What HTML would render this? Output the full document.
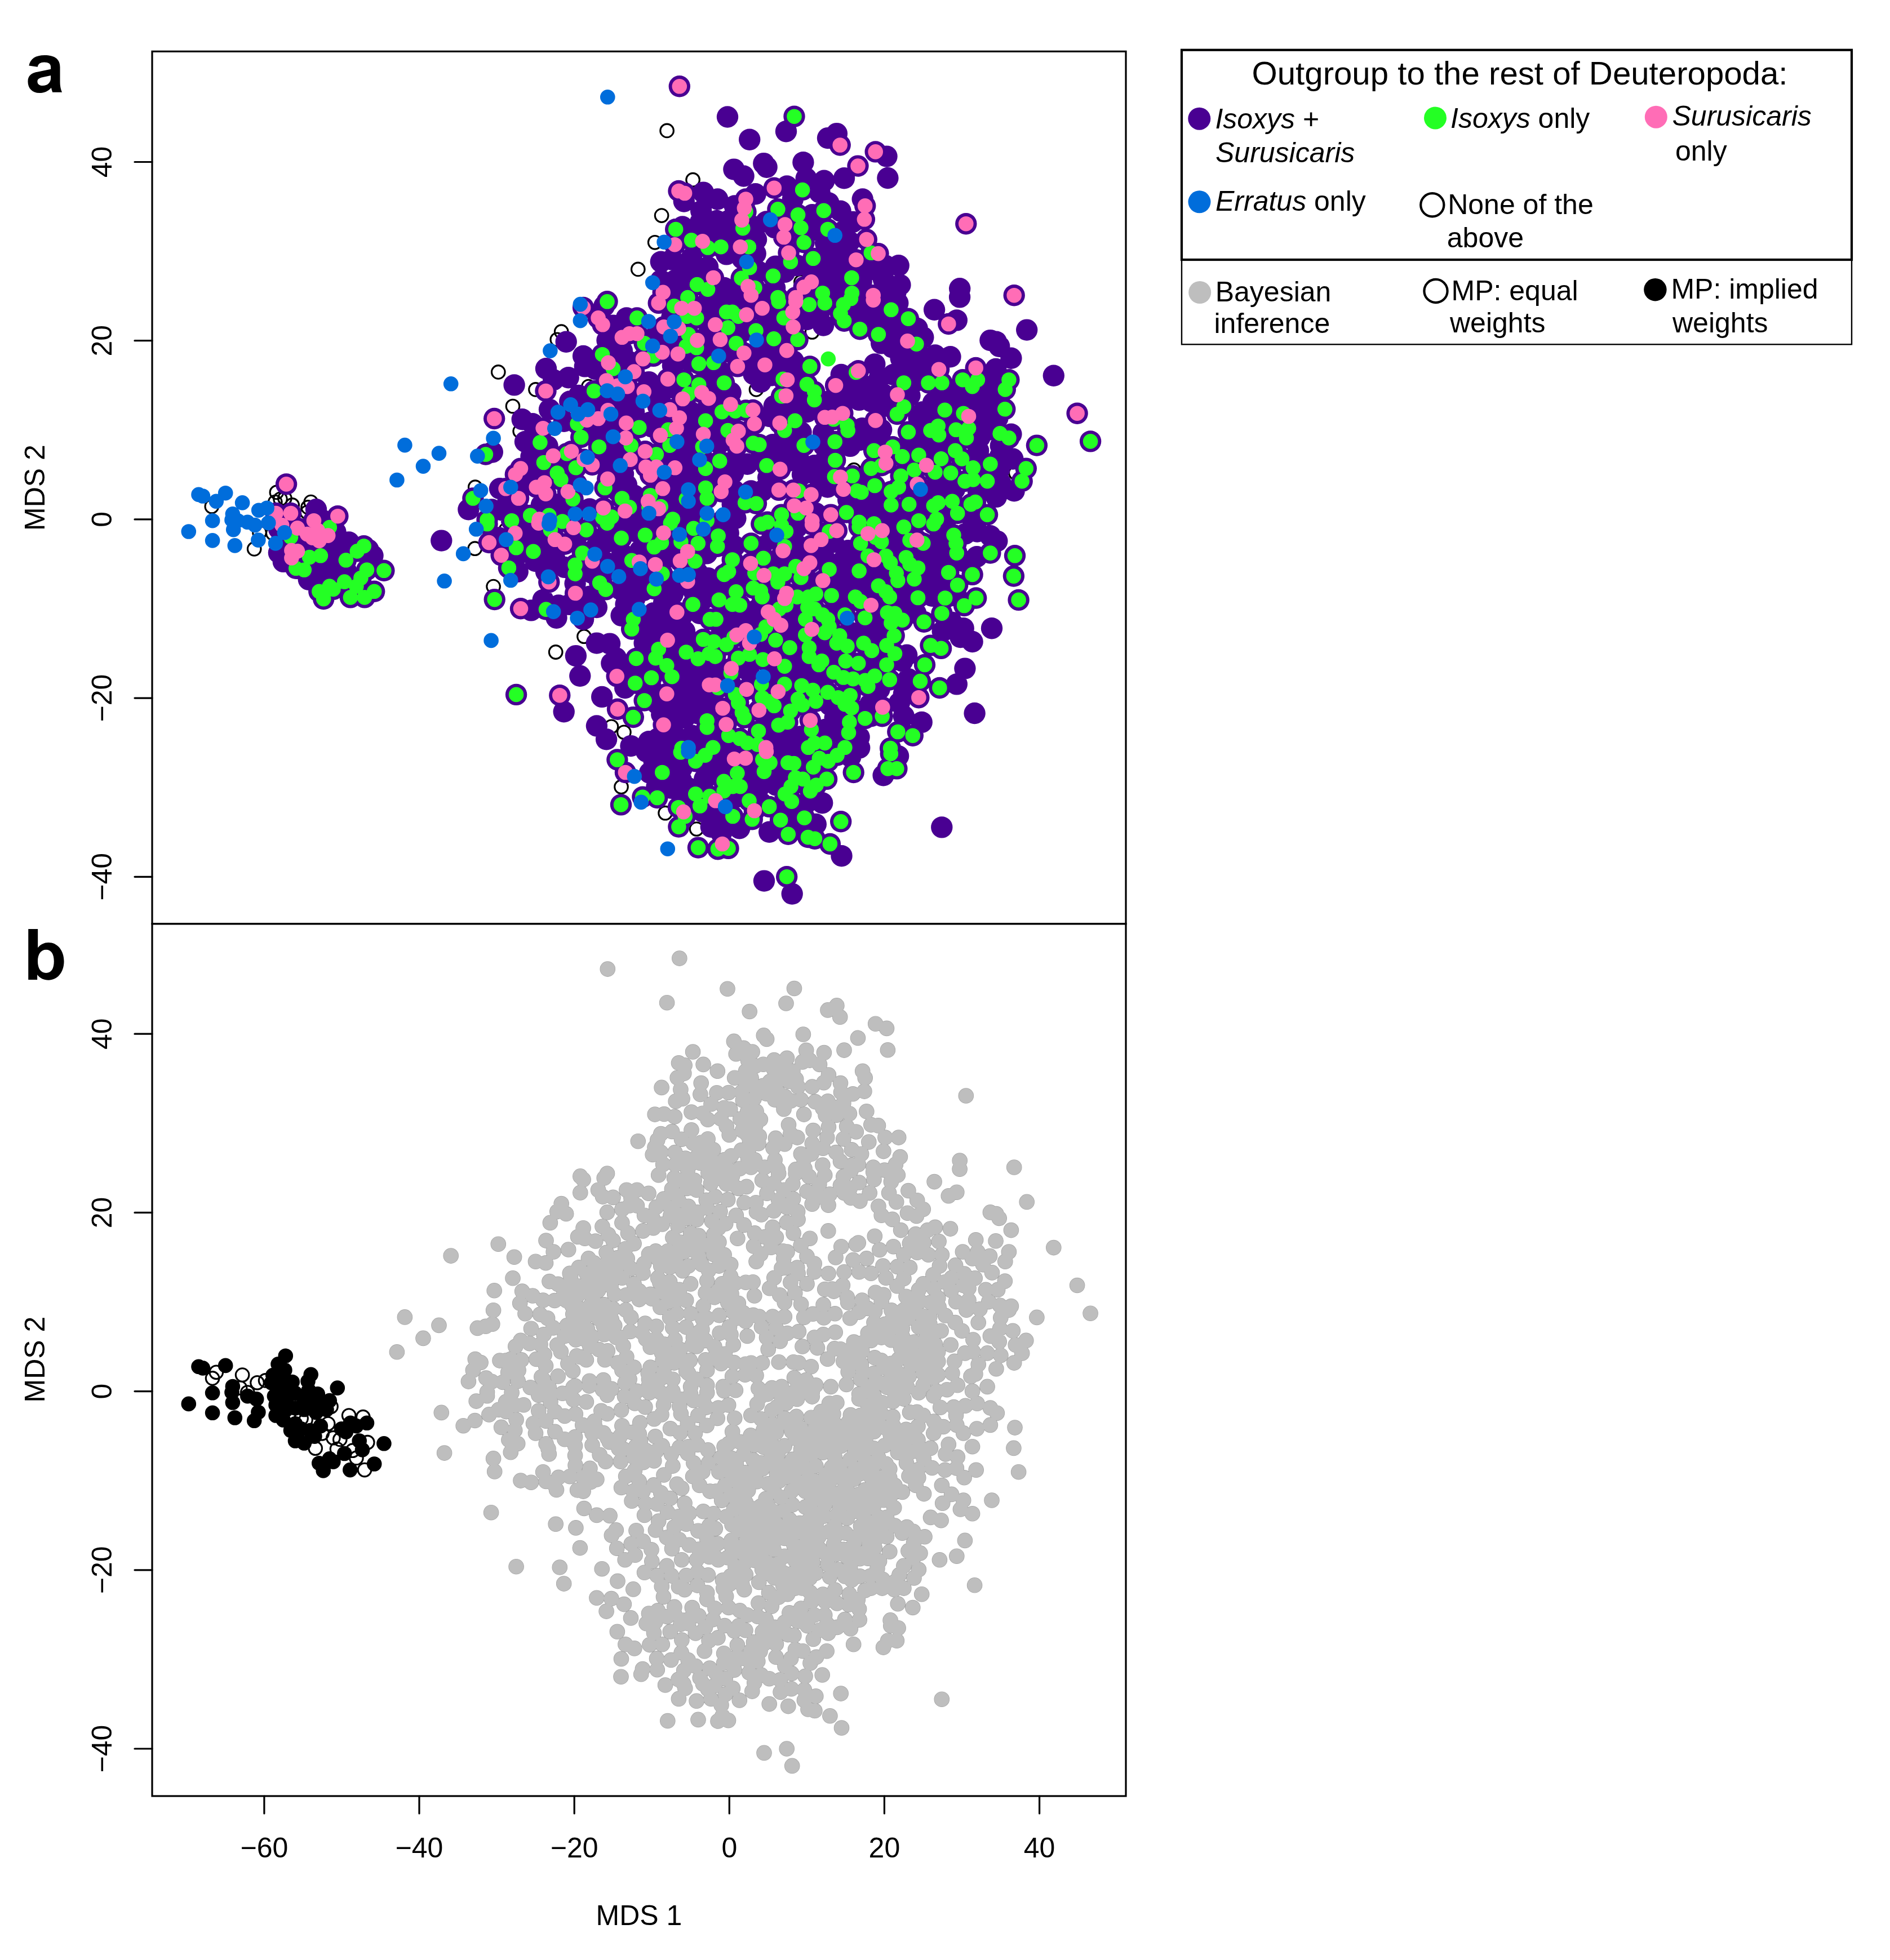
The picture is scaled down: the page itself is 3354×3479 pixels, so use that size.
<!DOCTYPE html>
<html><head><meta charset="utf-8"><title>MDS</title>
<style>html,body{margin:0;padding:0;background:#fff}svg{display:block}text{font-family:"Liberation Sans",sans-serif;fill:#000}</style></head>
<body>
<svg width="3354" height="3479" viewBox="0 0 3354 3479">
<rect width="3354" height="3479" fill="#fff"/>
<g id="pa">
<path d="M364 899a11.8 11.8 0 1 0 23.6 0a11.8 11.8 0 1 0 -23.6 0M479.1 873.9a11.8 11.8 0 1 0 23.6 0a11.8 11.8 0 1 0 -23.6 0M485.7 885.8a11.8 11.8 0 1 0 23.6 0a11.8 11.8 0 1 0 -23.6 0M476.5 891.1a11.8 11.8 0 1 0 23.6 0a11.8 11.8 0 1 0 -23.6 0M493.6 884.5a11.8 11.8 0 1 0 23.6 0a11.8 11.8 0 1 0 -23.6 0M539.9 891.1a11.8 11.8 0 1 0 23.6 0a11.8 11.8 0 1 0 -23.6 0M534.7 900.4a11.8 11.8 0 1 0 23.6 0a11.8 11.8 0 1 0 -23.6 0M533.3 909.6a11.8 11.8 0 1 0 23.6 0a11.8 11.8 0 1 0 -23.6 0M439.4 974.4a11.8 11.8 0 1 0 23.6 0a11.8 11.8 0 1 0 -23.6 0M448.7 945.3a11.8 11.8 0 1 0 23.6 0a11.8 11.8 0 1 0 -23.6 0M472.5 946.7a11.8 11.8 0 1 0 23.6 0a11.8 11.8 0 1 0 -23.6 0M506.9 896.4a11.8 11.8 0 1 0 23.6 0a11.8 11.8 0 1 0 -23.6 0M1171.8 231.9a11.8 11.8 0 1 0 23.6 0a11.8 11.8 0 1 0 -23.6 0M1217.8 319.2a11.8 11.8 0 1 0 23.6 0a11.8 11.8 0 1 0 -23.6 0M1162.3 382.6a11.8 11.8 0 1 0 23.6 0a11.8 11.8 0 1 0 -23.6 0M1150.4 430.3a11.8 11.8 0 1 0 23.6 0a11.8 11.8 0 1 0 -23.6 0M1120.5 477.9a11.8 11.8 0 1 0 23.6 0a11.8 11.8 0 1 0 -23.6 0M1409.6 500.4a11.8 11.8 0 1 0 23.6 0a11.8 11.8 0 1 0 -23.6 0M984.4 588.7a11.8 11.8 0 1 0 23.6 0a11.8 11.8 0 1 0 -23.6 0M977 602.8a11.8 11.8 0 1 0 23.6 0a11.8 11.8 0 1 0 -23.6 0M872.5 660.4a11.8 11.8 0 1 0 23.6 0a11.8 11.8 0 1 0 -23.6 0M898.2 721a11.8 11.8 0 1 0 23.6 0a11.8 11.8 0 1 0 -23.6 0M938.7 691.4a11.8 11.8 0 1 0 23.6 0a11.8 11.8 0 1 0 -23.6 0M1032.6 686.1a11.8 11.8 0 1 0 23.6 0a11.8 11.8 0 1 0 -23.6 0M996.9 736.3a11.8 11.8 0 1 0 23.6 0a11.8 11.8 0 1 0 -23.6 0M831.5 864.7a11.8 11.8 0 1 0 23.6 0a11.8 11.8 0 1 0 -23.6 0M951.9 900.4a11.8 11.8 0 1 0 23.6 0a11.8 11.8 0 1 0 -23.6 0M910.9 765.4a11.8 11.8 0 1 0 23.6 0a11.8 11.8 0 1 0 -23.6 0M1224.4 842.2a11.8 11.8 0 1 0 23.6 0a11.8 11.8 0 1 0 -23.6 0M1429.4 589.5a11.8 11.8 0 1 0 23.6 0a11.8 11.8 0 1 0 -23.6 0M1330.2 691.4a11.8 11.8 0 1 0 23.6 0a11.8 11.8 0 1 0 -23.6 0M1503.5 834.2a11.8 11.8 0 1 0 23.6 0a11.8 11.8 0 1 0 -23.6 0M1404.3 712.5a11.8 11.8 0 1 0 23.6 0a11.8 11.8 0 1 0 -23.6 0M1790.5 839.5a11.8 11.8 0 1 0 23.6 0a11.8 11.8 0 1 0 -23.6 0M831 973.7a11.8 11.8 0 1 0 23.6 0a11.8 11.8 0 1 0 -23.6 0M863.8 1041.1a11.8 11.8 0 1 0 23.6 0a11.8 11.8 0 1 0 -23.6 0M1024.7 1129.7a11.8 11.8 0 1 0 23.6 0a11.8 11.8 0 1 0 -23.6 0M974.4 1157.5a11.8 11.8 0 1 0 23.6 0a11.8 11.8 0 1 0 -23.6 0M1073.1 1289.8a11.8 11.8 0 1 0 23.6 0a11.8 11.8 0 1 0 -23.6 0M1095.6 1299.8a11.8 11.8 0 1 0 23.6 0a11.8 11.8 0 1 0 -23.6 0M885.8 940.6a11.8 11.8 0 1 0 23.6 0a11.8 11.8 0 1 0 -23.6 0M1184.7 1316.2a11.8 11.8 0 1 0 23.6 0a11.8 11.8 0 1 0 -23.6 0M1090.7 1396.7a11.8 11.8 0 1 0 23.6 0a11.8 11.8 0 1 0 -23.6 0M1168.8 1443.2a11.8 11.8 0 1 0 23.6 0a11.8 11.8 0 1 0 -23.6 0M1244.4 1450.4a11.8 11.8 0 1 0 23.6 0a11.8 11.8 0 1 0 -23.6 0M1224.3 1471.5a11.8 11.8 0 1 0 23.6 0a11.8 11.8 0 1 0 -23.6 0" stroke="#000" stroke-width="3.1" fill="none"/>
<path d="M574.2 1012.8h.01M561 1018.1h.01M587.5 996.9h.01M600.7 965.2h.01M619.2 962.5h.01M595.4 944h.01M653.6 975.8h.01M661.5 986.3h.01M494.9 981.1h.01M502.8 996.9h.01M547.8 1028.7h.01M595.4 1018.1h.01M613.9 1012.8h.01M576.9 970.5h.01M561 904.3h.01M494.9 938.7h.01M571.6 922.9h.01M1291 207.5h.01M1330.2 247.7h.01M1395 233.2h.01M1469 245.1h.01M1484.9 237.1h.01M1573.5 277.6h.01M1425.4 288.2h.01M1355.3 290.1h.01M1360.6 296.7h.01M1302.4 300.6h.01M1319.6 312.5h.01M1430.7 316.5h.01M1575.4 316h.01M1248.1 341.6h.01M1273.3 353.5h.01M1213.8 357.5h.01M1340.7 344.3h.01M1454.5 341.6h.01M1406.9 353.5h.01M1470.4 360.2h.01M1491.5 374.7h.01M1530.7 353.5h.01M1303.7 365.4h.01M1244.2 374.7h.01M1272 391.9h.01M1242.9 394.6h.01M1338.1 402.5h.01M1441.3 381.3h.01M1496.8 410.4h.01M1446.6 407.8h.01M1211.1 402.5h.01M1285.2 418.4h.01M1507.4 428.9h.01M1295.8 421h.01M1465.1 431.6h.01M1172.8 464.7h.01M1192.6 460.7h.01M1227 458h.01M1256.1 473.9h.01M1289.2 451.4h.01M1340.7 450.1h.01M1376.5 472.6h.01M1414.8 471.3h.01M1470.4 452.8h.01M1467.7 471.3h.01M1496.8 473.9h.01M1541.8 479.2h.01M1570.9 471.3h.01M1594.7 471.3h.01M1172.8 497.7h.01M1197.9 497.7h.01M1216.4 508.3h.01M1285.2 511h.01M1346 481.9h.01M1375.1 511h.01M1483.6 497.7h.01M1528.6 500.4h.01M1597.4 505.7h.01M1589.4 518.9h.01M1523.3 518.9h.01M1441.3 481.9h.01M1491.5 513.6h.01M1703.2 512.3h.01M1004.7 606.7h.01M1035.1 631.9h.01M1037.8 650.4h.01M969 654.3h.01M1008.7 670.2h.01M982.2 674.2h.01M912.6 683.4h.01M1027.2 702h.01M1011.3 712.5h.01M926.7 744.3h.01M945.2 752.2h.01M873.8 802.5h.01M932 784h.01M971.6 791.9h.01M942.5 810.4h.01M939.9 836.9h.01M1048.4 768.1h.01M1072.2 768.1h.01M1156.8 757.5h.01M1090.7 805.1h.01M1072.2 821h.01M1111.9 860.7h.01M887 867.3h.01M831.4 904.3h.01M892.3 905.7h.01M1096 871.3h.01M1196.5 871.3h.01M1125.1 879.2h.01M990.2 895.1h.01M1193.9 900.4h.01M1225.6 913.6h.01M1072.2 543.2h.01M1088 577.6h.01M1077.5 604.1h.01M1111.9 564.4h.01M1103.9 622.6h.01M1114.5 641.1h.01M1151.5 678.1h.01M1172.7 699.3h.01M1193.9 649h.01M1225.6 641.1h.01M1254.7 596.1h.01M1254.7 662.3h.01M1167.4 686.1h.01M1103.9 720.5h.01M1125.1 731.1h.01M1154.2 749.6h.01M1225.6 731.1h.01M1254.7 725.8h.01M1090.7 749.6h.01M1053.7 762.8h.01M1072.2 784h.01M1085.4 794.6h.01M1217.7 760.2h.01M1225.6 784h.01M1217.7 807.8h.01M1207.1 847.5h.01M1228.3 839.5h.01M1193.9 855.4h.01M1178 887.1h.01M1236.2 900.4h.01M1130.4 921.5h.01M1172.7 924.2h.01M1225.6 926.8h.01M1658.1 549.8h.01M1697.8 568.4h.01M1757.4 604.1h.01M1703.1 527.4h.01M1524.6 551.2h.01M1551 545.9h.01M1593.3 537.9h.01M1432 567h.01M1461.1 577.6h.01M1590.7 585.6h.01M1627.7 582.9h.01M1638.3 598.8h.01M1564.2 609.4h.01M1598.6 635.8h.01M1552.3 646.4h.01M1646.2 635.8h.01M1659.5 630.5h.01M1492.8 664.9h.01M1585.4 664.9h.01M1627.7 675.5h.01M1349.9 678.1h.01M1537.8 686.1h.01M1514 688.7h.01M1566.9 699.3h.01M1614.5 702h.01M1667.4 699.3h.01M1688.6 720.5h.01M1275.9 657h.01M1371.1 630.5h.01M1339.4 641.1h.01M1408.1 641.1h.01M1320.8 586.9h.01M1373.8 720.5h.01M1402.9 728.4h.01M1432 731.1h.01M1498.1 709.9h.01M1524.6 709.9h.01M1545.7 712.5h.01M1572.2 720.5h.01M1638.3 731.1h.01M1749.4 741.6h.01M1754.7 762.8h.01M1275.9 699.3h.01M1267.9 754.9h.01M1365.8 739h.01M1461.1 768.1h.01M1529.8 760.2h.01M1564.2 762.8h.01M1630.4 741.6h.01M1738.8 776h.01M1371.1 789.3h.01M1392.3 789.3h.01M1508.7 791.9h.01M1524.6 781.3h.01M1611.9 791.9h.01M1736.2 799.8h.01M1417.4 815.7h.01M1326.1 823.7h.01M1297 821h.01M1445.2 826.3h.01M1461.1 821h.01M1363.2 847.5h.01M1424 842.2h.01M1450.5 844.8h.01M1267.9 842.2h.01M1529.8 850.1h.01M1664.8 868.6h.01M1693.9 868.6h.01M1736.2 873.9h.01M1352.6 871.3h.01M1551 889.8h.01M1299.7 895.1h.01M1527.2 900.4h.01M1638.3 911h.01M1680.6 918.9h.01M1725.6 921.5h.01M1447.8 911h.01M1822.2 585.6h.01M1767.9 606.7h.01M1773.2 614.7h.01M1794.4 635.8h.01M1869.8 666.8h.01M1770.6 741.6h.01M1794.4 770.7h.01M1774.6 810.4h.01M1775.9 858h.01M1799.7 871.3h.01M1767.9 881.9h.01M783.3 959.6h.01M955.8 956.5h.01M984.9 993.5h.01M918.7 1014.7h.01M963.7 1064.9h.01M942.5 1083.4h.01M987.5 1096.7h.01M1011.3 1072.9h.01M1035.1 1099.3h.01M1058.9 1078.1h.01M1020.6 1035.8h.01M1101.3 1046.4h.01M1126.4 1062.3h.01M1102.6 1092.7h.01M1178 1070.2h.01M1141 1099.3h.01M1172.7 1102h.01M1058.9 1141.6h.01M1021.9 1164.1h.01M1029.3 1199.8h.01M1085.4 1177.4h.01M1093.3 1168.1h.01M1068.2 1236.9h.01M1000.7 1263.3h.01M1058.9 1288.5h.01M1076.1 1312.3h.01M1151.5 1316.2h.01M1215 1273.9h.01M1228.3 1305.7h.01M1215 1120.5h.01M1241.5 1088.7h.01M1223 1194.6h.01M1236.2 1221h.01M1254.7 1184h.01M1209.7 1221h.01M1156.8 1223.7h.01M1109.2 1221h.01M1204.4 1268.6h.01M1167.4 1311h.01M1077.5 961.7h.01M1103.9 982.9h.01M1066.9 956.5h.01M1257.4 1049h.01M1230.9 1049h.01M1193.9 1054.3h.01M1209.7 1094h.01M1143.6 1141.6h.01M1196.5 1162.8h.01M1051 1017.3h.01M950.5 996.1h.01M929.3 945.9h.01M1757.4 951.2h.01M1733.5 988.2h.01M1709.7 996.1h.01M1678 1033.2h.01M1651.5 1022.6h.01M1656.8 996.1h.01M1760 1115.2h.01M1709.7 1115.2h.01M1688.6 1104.6h.01M1672.7 1120.5h.01M1725.6 1139h.01M1704.4 1131.1h.01M1712.4 1186.6h.01M1697.8 1214.4h.01M1609.2 1162.8h.01M1601.3 1173.4h.01M1611.9 1205.1h.01M1603.9 1231.6h.01M1596 1247.5h.01M1603.9 1271.3h.01M1635.7 1281.9h.01M1729.6 1266h.01M1524.6 1308.3h.01M1545.7 1271.3h.01M1769.3 960.4h.01M1162.9 1331.3h.01M1147 1334h.01M1189.3 1348.5h.01M1258.1 1364.4h.01M1165.5 1396.1h.01M1209.2 1385.6h.01M1221.1 1398.8h.01M1250.2 1382.9h.01M1332.2 1382.9h.01M1337.5 1367h.01M1374.5 1340.6h.01M1311 1337.9h.01M1432.7 1337.9h.01M1509.4 1343.2h.01M1247.5 1441.1h.01M1287.2 1459.6h.01M1312.3 1470.2h.01M1365.2 1476.8h.01M1350.7 1425.2h.01M1459.2 1425.2h.01M1493.5 1519.2h.01M1356 1563.6h.01M1405.7 1586.6h.01M1427.4 1470.2h.01M1377.1 1393.5h.01M1274 1359.1h.01M1594.1 1341.9h.01M1567.6 1376.3h.01M1671.3 1468.4h.01M584.8 936.1h.01M516 953.3h.01M549.1 989h.01M568.9 986.3h.01M525.3 1008.8h.01M539.8 1011.5h.01M613.9 994.3h.01M633.8 978.4h.01M645.7 969.2h.01M651 1011.5h.01M681.4 1012.8h.01M640.4 1026h.01M611.3 1032.6h.01M632.4 1040.6h.01M584.8 1040.6h.01M566.3 1049.8h.01M591.4 1045.9h.01M574.2 1063.1h.01M621.9 1060.4h.01M647 1060.4h.01M664.2 1049.8h.01M1409.5 206.7h.01M1424.1 337.1h.01M1380.4 371.3h.01M1416.1 381.3h.01M1461.9 373.9h.01M1199.2 407h.01M1421.4 404.3h.01M1469 407h.01M1318.3 405.1h.01M1227 426.3h.01M1426.7 430.3h.01M1256.1 439.5h.01M1279.4 438.2h.01M1328.8 438.2h.01M1443.1 458.8h.01M1402.9 464.7h.01M1545.8 448.8h.01M1330.2 475.2h.01M1372 489.8h.01M1315.6 493.8h.01M1237 505.1h.01M1256.1 513.6h.01M1511.4 493h.01M1459.8 520.2h.01M1511.9 520.2h.01M1339.4 511h.01M1220.4 528.1h.01M1380.4 528.1h.01M1323.5 376h.01M1077.5 535.3h.01M1196.5 543.2h.01M1219 561.7h.01M1236.2 564.4h.01M1130.4 564.4h.01M1221.6 593.5h.01M1143.6 609.4h.01M1217.7 614.7h.01M1236.2 617.3h.01M1069 629.2h.01M1159.5 631.9h.01M1240.2 645.6h.01M1088 654.3h.01M1213.7 674.2h.01M1240.2 682.9h.01M1054.2 694h.01M1221.6 699.3h.01M1252.1 746.9h.01M1134.3 758.8h.01M1185.9 762.8h.01M1024.6 752.2h.01M1031.2 776h.01M958.4 785.3h.01M1062.9 793.2h.01M1119.8 790.6h.01M1188.6 790.6h.01M1246.8 793.2h.01M1164.8 806.5h.01M861.9 806.5h.01M1006 805.1h.01M965 821h.01M1021.9 830.3h.01M988.8 839.5h.01M995.4 851.4h.01M1073.5 866h.01M1252.1 831.6h.01M1252.1 866h.01M839.4 884.5h.01M1016.6 885.8h.01M1103.9 884.5h.01M1154.2 879.2h.01M1254.7 884.5h.01M1172.7 899h.01M1117.1 900.4h.01M941.2 914.9h.01M974.3 914.9h.01M908.1 924.2h.01M864.5 922.9h.01M1085.4 917.6h.01M1069.5 918.9h.01M1151.5 900.4h.01M1193.9 921.5h.01M998.1 925.5h.01M1217.7 885.8h.01M1254.7 924.2h.01M1381.7 535.3h.01M1435.9 540.6h.01M1463.7 537.9h.01M1496.8 540.6h.01M1510 530h.01M1289.1 553.8h.01M1299.7 553.8h.01M1310.3 561.7h.01M1391 564.4h.01M1491.5 556.5h.01M1498.1 569.7h.01M1581.4 549.8h.01M1611.9 565.7h.01M1291.7 581.6h.01M1341.5 586.9h.01M1525.9 584.2h.01M1558.9 593.5h.01M1306.3 609.4h.01M1373.2 601.4h.01M1415.6 602.8h.01M1626.4 610.7h.01M1437.2 650.4h.01M1285.1 679.5h.01M1519.3 661h.01M1432 682.1h.01M1445.2 695.3h.01M1445.2 709.9h.01M1389.6 672.9h.01M1387 703.3h.01M1603.9 679.5h.01M1647.6 679.5h.01M1671.4 679.5h.01M1708.4 674.2h.01M1734.9 674.2h.01M1725.6 686.1h.01M1281.2 731.1h.01M1305 729.7h.01M1323.5 728.4h.01M1603.9 721.8h.01M1592 735h.01M1676.7 727.9h.01M1709.7 733.7h.01M1410.8 746.9h.01M1479.6 744.3h.01M1503.4 754.9h.01M1504.7 764.1h.01M1611.9 766.8h.01M1651.5 764.1h.01M1664.8 756.2h.01M1666.1 772.1h.01M1696.5 762.8h.01M1719 760.2h.01M1715 777.4h.01M1291.7 764.1h.01M1392.3 764.1h.01M1336.7 786.6h.01M1347.3 789.3h.01M1426.7 790.6h.01M1481.7 784h.01M1584.1 793.2h.01M1551 799.8h.01M1601.3 810.4h.01M1630.4 807.8h.01M1670.1 814.4h.01M1695.2 799.8h.01M1707.1 814.4h.01M1277.2 818.4h.01M1360.5 826.3h.01M1482.2 817h.01M1545.7 831.6h.01M1564.2 826.3h.01M1598.6 844.8h.01M1622.4 834.2h.01M1659.5 838.2h.01M1687.2 839.5h.01M1726.9 830.3h.01M1757.4 823.7h.01M1480.9 846.1h.01M1512.6 844.8h.01M1552.3 862h.01M1712.4 854.1h.01M1726.9 851.4h.01M1752.1 854.1h.01M1520.6 871.3h.01M1528.5 873.9h.01M1581.4 872.6h.01M1594.7 864.7h.01M1417.4 871.3h.01M1322.2 892.4h.01M1342 893.8h.01M1581.4 896.4h.01M1613.2 895.1h.01M1656.8 897.7h.01M1664.8 892.4h.01M1689.9 889.8h.01M1723 895.1h.01M1730.9 891.1h.01M1502.1 909.6h.01M1699.2 911h.01M1752.1 913.6h.01M1387 913.6h.01M1416.1 911h.01M1361.9 926.8h.01M1524.6 926.8h.01M1630.4 924.2h.01M1662.1 921.5h.01M1551 929.5h.01M1266.6 643.8h.01M1790.4 674.2h.01M1783.8 691.4h.01M1783.3 726.3h.01M1774.6 769.4h.01M1790.4 777.4h.01M1839.9 790.6h.01M1935.1 783.4h.01M1820.8 831.6h.01M1813.7 854.1h.01M864.5 930h.01M916.1 972.3h.01M946.5 978.9h.01M902.9 1008h.01M976.9 940.6h.01M1040.4 940.6h.01M1033.8 981.6h.01M1020.6 1002.8h.01M1020.6 1018.6h.01M1102.6 955.1h.01M1144.9 949.8h.01M1160.8 971h.01M1174 963.1h.01M1208.4 961.7h.01M1238.8 964.4h.01M1233.5 996.1h.01M1121.1 994.8h.01M1175.3 1018.6h.01M1064.2 1034.5h.01M1074.8 1046.4h.01M1160.8 1045.1h.01M877.7 1064.1h.01M969 1081.6h.01M1229.6 1072.9h.01M1123.8 1099.3h.01M1121.1 1116.5h.01M1248.1 1135h.01M1168.7 1152.2h.01M1163.4 1168.1h.01M1129 1168.9h.01M1217.7 1157.5h.01M1238.8 1169.4h.01M1183.3 1181.3h.01M1258.7 1160.2h.01M1192.5 1201.2h.01M1156 1203h.01M1127.2 1212.5h.01M916.1 1232.9h.01M1143.6 1243.5h.01M1123.8 1273.1h.01M1254.7 1279.2h.01M1254.7 1291.1h.01M1209.7 1328.1h.01M1230.9 937.9h.01M1189.9 928.7h.01M1077.5 928.7h.01M1260 1099.3h.01M1274.6 951.2h.01M1273.2 969.7h.01M1332.8 964.4h.01M1394.9 943.2h.01M1387 932.6h.01M1351.3 930h.01M1392.3 969.7h.01M1471.6 943.2h.01M1524.6 935.3h.01M1553.7 953.8h.01M1527.2 964.4h.01M1564.2 961.7h.01M1603.9 935.3h.01M1614.5 959.1h.01M1638.3 964.4h.01M1656.8 930h.01M1692.5 949.8h.01M1696.5 964.4h.01M1697.8 981.6h.01M1757.4 981.6h.01M1299.7 993.5h.01M1354.7 990.8h.01M1412.1 1005.4h.01M1471.6 1010.7h.01M1524.6 1013.3h.01M1540.4 986.9h.01M1572.2 986.9h.01M1580.1 998.8h.01M1607.9 989.5h.01M1614.5 1001.4h.01M1629 1008h.01M1293.1 1014.7h.01M1285.1 1019.9h.01M1339.4 1017.3h.01M1372.4 1018.6h.01M1392.3 1018.6h.01M1380.4 1033.2h.01M1421.4 1025.2h.01M1590.7 1017.3h.01M1593.3 1030.5h.01M1558.9 1039.8h.01M1622.4 1027.9h.01M1683.3 1016h.01M1725.6 1019.9h.01M1699.2 1038.5h.01M1306.3 1050.4h.01M1336.7 1043.8h.01M1349.9 1049h.01M1352.6 1059.6h.01M1275.9 1064.9h.01M1299.7 1072.9h.01M1312.9 1074.2h.01M1414.8 1059.6h.01M1434.6 1059.6h.01M1447.8 1054.3h.01M1475.6 1057h.01M1517.9 1059.6h.01M1527.2 1067.6h.01M1572.2 1050.4h.01M1578.8 1059.6h.01M1629 1061h.01M1677.2 1061.5h.01M1732.2 1061.5h.01M1711.1 1075h.01M1270.6 1099.3h.01M1383 1080.8h.01M1394.9 1074.2h.01M1433.3 1078.1h.01M1445.2 1080.8h.01M1429.3 1099.3h.01M1459.7 1091.4h.01M1469 1099.3h.01M1535.1 1096.7h.01M1574.8 1087.4h.01M1588 1088.7h.01M1601.3 1100.6h.01M1581.4 1105.9h.01M1639.6 1103.8h.01M1671.4 1088.7h.01M1499.4 1091.4h.01M1359.2 1112.5h.01M1349.9 1125.8h.01M1429.3 1127.1h.01M1463.7 1123.1h.01M1471.6 1112.5h.01M1490.2 1128.4h.01M1484.9 1141.6h.01M1503.4 1146.9h.01M1532.5 1141.6h.01M1547 1154.9h.01M1586.7 1128.4h.01M1573.5 1145.6h.01M1588 1160.2h.01M1651.5 1145.6h.01M1670.1 1150.9h.01M1289.1 1144.3h.01M1376.4 1136.3h.01M1401.5 1149.6h.01M1302.3 1131.1h.01M1266.6 1139h.01M1435.9 1149.6h.01M1269.3 1165.4h.01M1310.3 1168.1h.01M1330.1 1161.5h.01M1353.9 1170.7h.01M1392.3 1182.6h.01M1435.9 1165.4h.01M1458.4 1173.4h.01M1453.1 1180h.01M1500.7 1173.4h.01M1523.2 1177.4h.01M1573.5 1180h.01M1641 1180h.01M1297 1194.6h.01M1479.6 1193.2h.01M1496.8 1202.5h.01M1514 1205.1h.01M1535.1 1207.8h.01M1552.3 1199.8h.01M1578.8 1206.5h.01M1633 1209.1h.01M1540.4 1218.4h.01M1392.3 1214.4h.01M1422.7 1217h.01M1442.5 1225h.01M1469 1228.9h.01M1487.5 1238.2h.01M1508.7 1234.2h.01M1499.4 1250.1h.01M1352.6 1238.2h.01M1363.2 1244.8h.01M1373.8 1252.8h.01M1305 1232.9h.01M1310.3 1247.5h.01M1416.1 1240.8h.01M1424 1251.4h.01M1447.8 1244.8h.01M1667.4 1221h.01M1274.6 1221h.01M1351.3 1214.4h.01M1511.3 1256.7h.01M1402.9 1262h.01M1397.6 1281.9h.01M1381.7 1287.1h.01M1316.9 1264.7h.01M1320.8 1273.9h.01M1565.6 1271.3h.01M1535.1 1275.2h.01M1507.4 1281.9h.01M1439.9 1295.1h.01M1346 1297.7h.01M1293.1 1305.7h.01M1506 1300.4h.01M1593.3 1299h.01M1619.8 1305.7h.01M1312.9 1311h.01M1326.1 1318.9h.01M1344.7 1321.5h.01M1445.2 1318.9h.01M1463.7 1318.9h.01M1434.6 1326.8h.01M1499.4 1326.8h.01M1580.1 1328.1h.01M1265.3 1326.8h.01M1801 986.3h.01M1798.9 1022.6h.01M1807.6 1064.9h.01M1095.4 1348.5h.01M1207.8 1335.3h.01M1234.3 1351.2h.01M1251.5 1340.6h.01M1175.3 1371h.01M1308.4 1372.3h.01M1284.6 1386.9h.01M1300.4 1396.1h.01M1313.7 1396.1h.01M1284.6 1404.1h.01M1356 1369.7h.01M1353.3 1348.5h.01M1366.6 1353.8h.01M1398.3 1353.8h.01M1408.9 1355.1h.01M1443.3 1361.7h.01M1453.9 1345.9h.01M1469.7 1351.2h.01M1485.6 1340.6h.01M1514.7 1371h.01M1411.5 1380.3h.01M1424.8 1382.9h.01M1403.6 1396.1h.01M1467.1 1382.9h.01M1448.6 1393.5h.01M1438 1404.1h.01M1393 1409.4h.01M1404.9 1422.6h.01M1140.4 1414.7h.01M1166.3 1416h.01M1234.3 1409.4h.01M1259.4 1413.3h.01M1242.2 1430.5h.01M1102 1428.4h.01M1203.9 1433.2h.01M1329.5 1421.3h.01M1365.2 1431.9h.01M1300.4 1449h.01M1334.8 1454.3h.01M1215.8 1449h.01M1385.1 1455.7h.01M1427.4 1451.7h.01M1492.2 1458.3h.01M1204.4 1467.6h.01M1398.8 1480.8h.01M1434 1486.1h.01M1445.9 1488.7h.01M1472.9 1498h.01M1239 1504.6h.01M1274 1507.2h.01M1292.5 1505.9h.01M1396.2 1556.2h.01M1580.8 1337.9h.01M1575.6 1364.4h.01M1591.4 1364.4h.01M508.1 859.4h.01M599.4 916.2h.01M516 911h.01M489.6 911h.01M500.2 932.1h.01M527.9 937.4h.01M557 924.2h.01M545.1 948h.01M563.7 941.4h.01M582.2 950.6h.01M566.3 959.9h.01M554.4 954.6h.01M517.4 977.1h.01M527.9 978.4h.01M517.4 990.3h.01M1205.8 153.3h.01M1490.7 257.5h.01M1553.7 269.4h.01M1522.5 294.6h.01M1204.5 339h.01M1215.1 343h.01M1373.8 333.7h.01M1323.5 353.5h.01M1320.9 369.4h.01M1316.4 390.6h.01M1535.2 365.4h.01M1533.9 389.3h.01M1393.1 398.5h.01M1391 421h.01M1537.8 425h.01M1246.8 428.4h.01M1197.4 434.2h.01M1313.8 438.2h.01M1399.5 448.8h.01M1558.5 450.1h.01M1519.3 461.2h.01M1265.9 493h.01M1439.9 500.4h.01M1426.7 509.6h.01M1327.5 508.3h.01M1176.7 518.9h.01M1549.7 524.2h.01M1332.8 524.2h.01M1412.2 528.1h.01M1714.3 397.2h.01M1799.7 524.2h.01M1035.1 545.9h.01M1168.7 537.9h.01M1209.7 547.2h.01M1232.2 547.2h.01M1061.6 564.4h.01M1069.5 576.3h.01M1178 580.3h.01M1204.4 582.9h.01M1103.9 598.8h.01M1117.1 592.2h.01M1130.4 592.2h.01M1237.5 604.1h.01M1175.3 625.2h.01M1203.1 628.4h.01M1141 637.1h.01M1079.6 643.8h.01M1125.1 659.6h.01M1076.1 675.5h.01M1096 684.8h.01M1113.2 686.1h.01M1185.1 672.9h.01M968.5 694h.01M1142.8 695.3h.01M1211.6 708h.01M1245.4 696.7h.01M1257.4 707.2h.01M877.2 743h.01M1078.8 728.4h.01M1188.6 727.1h.01M1205.8 741.6h.01M1061.6 743h.01M1041.7 745.6h.01M1111.3 750.9h.01M963.7 760.2h.01M1200.5 760.2h.01M1171.9 772.6h.01M1110.5 777.4h.01M1248.1 770.7h.01M1014 801.2h.01M981.7 809.1h.01M1144.9 801.2h.01M1036.5 815.7h.01M1051 825h.01M1118.5 815.7h.01M1146.2 828.9h.01M1164.8 828.9h.01M1197.8 830.3h.01M924 831.6h.01M914.8 842.2h.01M1154.2 843.5h.01M1078.3 850.1h.01M966.3 856.7h.01M951.8 864.7h.01M968.5 876.6h.01M897.6 867.3h.01M920.1 884.5h.01M1007.9 872.6h.01M1176.1 867.3h.01M1150.2 889.8h.01M1070.8 901.7h.01M1109.2 907h.01M1168.7 903h.01M957.1 921.5h.01M1352.6 547.2h.01M1324.8 558.6h.01M1412.1 535.3h.01M1406.8 553.8h.01M1407.6 580.3h.01M1269.3 576.3h.01M1278 602.8h.01M1320.3 626.6h.01M1396.2 622.1h.01M1308.9 650.4h.01M1357.4 647.7h.01M1397 674.2h.01M1394.9 702.5h.01M1523.2 658.3h.01M1483 684.2h.01M1610.5 605.4h.01M1683.3 575h.01M1666.1 655.7h.01M1731.7 653h.01M1592.5 700.6h.01M1296.5 717.8h.01M1336.2 727.9h.01M1338.8 752.2h.01M1463.7 740.8h.01M1476.9 740.3h.01M1495.4 733.7h.01M1553.7 746.4h.01M1383.8 750.9h.01M1310.3 765.4h.01M1301 781.3h.01M1307.6 791.9h.01M1719 739h.01M1570.8 802.5h.01M1572.2 822.3h.01M1644.1 825.8h.01M1384.3 832.9h.01M1286.5 855.4h.01M1279.8 872.6h.01M1491.5 846.9h.01M1496.8 868.6h.01M1627.7 859.4h.01M1382.2 869.9h.01M1408.1 869.9h.01M1439.4 877.9h.01M1409.5 897.7h.01M1430.6 901.7h.01M1474.3 913.6h.01M1441.2 924.2h.01M1549.7 532.6h.01M1911.6 733.7h.01M914.2 946.4h.01M867.9 963.1h.01M889.6 985.6h.01M984.9 957.8h.01M1002.1 965.7h.01M1017.9 936.6h.01M955.8 928.7h.01M1051 996.1h.01M1177.5 945.9h.01M1220.3 978.9h.01M1134.3 997.5h.01M1162.9 1002h.01M1207.1 995.6h.01M974.3 1033.2h.01M1220.3 1031.9h.01M1021.1 1053h.01M924 1080.3h.01M1201.3 1086.6h.01M1184.6 1136.3h.01M1094.7 1200.4h.01M993.3 1234.2h.01M1183.3 1231.6h.01M1096 1258.8h.01M1177.5 1286.6h.01M1258.7 1215.7h.01M1441.2 931.3h.01M1484.9 941.9h.01M1540.4 947.2h.01M1565.6 941.9h.01M1627.2 958.6h.01M1457.1 957.8h.01M1439.4 968.4h.01M1389.6 977.6h.01M1551 993.5h.01M1332 1000.1h.01M1437.2 998.8h.01M1426.7 1009.4h.01M1355.8 1021.3h.01M1460.3 1030.5h.01M1395.7 1053h.01M1392.3 1062.3h.01M1545.7 1074.2h.01M1363.2 1086.1h.01M1373.8 1099.3h.01M1385.7 1109.9h.01M1440.7 1117h.01M1323.5 1119.2h.01M1307.6 1127.1h.01M1330.1 1141.6h.01M1374.3 1169.4h.01M1297.8 1186.6h.01M1269.3 1215.7h.01M1324.8 1223.7h.01M1380.9 1227.6h.01M1630.4 1238.2h.01M1282.5 1257.2h.01M1346.8 1260.7h.01M1566.3 1255.4h.01M1437.8 1278.7h.01M1288.6 1285.8h.01M1359.2 1326.8h.01M1303.1 1347.2h.01M1322.9 1345.9h.01M1359.9 1334h.01M1109.9 1371h.01M1270 1421.3h.01M1213.1 1441.1h.01M1338.8 1439h.01M1281.9 1498h.01M1408.8 1194.4h.01M1567.9 495.8h.01M885 954.4h.01M1550.2 1023h.01M1046.2 903.4h.01M1105.6 1024h.01M1285 920.9h.01M1481.3 1161.2h.01M1286.6 1088.4h.01M1502.6 451.8h.01M1192.4 562.8h.01M1498 316.3h.01M1399.7 371.5h.01M1164.7 594.7h.01M1093.6 826h.01M1464.6 1294.9h.01M1071.8 705.9h.01M1574.4 914.6h.01M1199 689.4h.01M1280.7 1115.5h.01M1645.6 870.7h.01M1165.8 1121.8h.01M1262 412h.01M1454.5 1201.6h.01M1167.6 720.6h.01M1549.8 1128.3h.01M1797.3 814.5h.01M1577.6 569.8h.01M1277.6 531.5h.01M1744.4 696.9h.01M1392.5 482.9h.01M1421 986.7h.01M1238.1 1242.5h.01M1470.1 712.8h.01M1649.9 802.3h.01M1560.8 670.7h.01M1613 1072.1h.01M1414.8 702.3h.01M1246 812h.01M1002 1006.9h.01M1146.2 1026.7h.01M1217.9 1248.7h.01M1361 570.5h.01M1256.3 1026.1h.01M1230.2 481.4h.01M1404.5 1098.9h.01M1481.7 1274.2h.01M1370 955.5h.01M1247 1064.5h.01M1453.8 553.9h.01M1207.5 935.8h.01M1327.7 1097.8h.01M1421.4 1307.2h.01M1584.3 966.7h.01M1301.3 839.1h.01M1369.2 1303.4h.01M1356.8 524.2h.01M1639.4 1041.7h.01M1190.8 1398.7h.01M1377.6 994.8h.01M960.9 896.3h.01M1478.9 962.3h.01M1569.7 529.2h.01M1431.7 1186.4h.01M1351.5 807.5h.01M1773.2 833.7h.01M1119.5 1324.1h.01M1429 1427.5h.01M1390.2 1243.9h.01M1421.1 663h.01M1344.8 1401h.01M1377.4 1370.4h.01M1303.2 1416.5h.01M1560.6 1223.1h.01M1608.5 1049.3h.01M1343.5 1081.9h.01M1496.1 995h.01M1351 608.2h.01M1377.4 648.4h.01M1312.9 526.4h.01M1110.6 1072.7h.01M1237.9 1016.7h.01M1510.1 1123h.01M1668.8 950.4h.01M1375 404.2h.01M1254.1 982.4h.01M1209.9 1363.3h.01M1505.1 977.3h.01M1183.7 1321.8h.01M1332.8 871.4h.01M1583.6 616.6h.01M1160.5 1350.6h.01M1145.4 1120.9h.01M1276.3 786.9h.01M1544.2 1249.8h.01M1000.9 747.8h.01M1484.9 431.4h.01M1286 1337.7h.01M1396.5 330.5h.01M1082.1 1142.6h.01M1468.6 864.5h.01M1054.7 975.1h.01M1213.7 1417.3h.01M1462.8 990.5h.01M1046.9 1058.6h.01M1493 1018.8h.01M1152.3 924.2h.01M1421.6 767.3h.01M1106 841.3h.01M1135.7 977.5h.01M1317.4 458.9h.01M1256.5 1248h.01M1610 914.6h.01M1756.5 681.7h.01M1397.1 818.8h.01M1126.6 943.1h.01M1045.9 727.1h.01M1224.5 867h.01M1730.2 721h.01M1119.9 704.1h.01M1400.9 1315h.01M1256.9 534.4h.01M1384.5 1434h.01M1535.1 1043.6h.01M1334.9 1203.7h.01M1624.9 642.7h.01M1205.1 1184.9h.01M1128.3 1019.5h.01M1368.3 666.4h.01M1342.1 425h.01M1312.6 1011.5h.01M1636.6 787.9h.01M1463 1143.2h.01M1655.9 715h.01M1303.7 969.4h.01M1240 1320.3h.01M1191.4 1033.3h.01M1760.5 711.1h.01M1034.2 1074.2h.01M1570 1017.9h.01M1695.6 698.1h.01M1372.9 1202.4h.01M1292.7 946.2h.01M1713.2 947.5h.01M1160.1 1088.1h.01M1481.4 1038.7h.01M1189.8 610.2h.01M1120.3 1192.5h.01M991.2 1074.5h.01M1525.2 1327.4h.01M1269 1307.3h.01M1191.7 1249.1h.01M1359.9 393.4h.01M1447.8 1463h.01M1189.6 988h.01M1767.1 655h.01M1237.7 1266.3h.01M1296.7 1106h.01M1674.2 984.7h.01M1485.4 1298.1h.01M1462 791.1h.01M969.1 1014.9h.01M1414.5 935.7h.01M1287.7 624.2h.01M1545.5 1175h.01M959 838.7h.01M1350.9 970.9h.01M1268.4 1444h.01M1629 983.7h.01M1296.9 1214.6h.01M1021.3 962h.01M1414.6 1171.7h.01M1071 995.7h.01M1657.4 975.2h.01M1293 391.7h.01M1240.1 1202.2h.01M1305.4 920h.01M1296.7 696.8h.01M1686.5 633.3h.01M925.3 866.1h.01M1543.2 569.7h.01M1108.5 930.8h.01M1614.4 658.9h.01M1552.6 780h.01M1404.4 1449.9h.01M1406.3 1123.3h.01M1017.2 914.6h.01M1324.4 1187.7h.01M1189.4 1111.7h.01M1372.9 552.5h.01M1364.5 1279.1h.01M1508.7 1042.9h.01M901.7 888.1h.01M1279 1039.7h.01M1396.6 595.5h.01M1152.9 1371.8h.01M1374.9 1054.8h.01M1223.3 1138.3h.01M1711.3 713.2h.01M1196.9 1304.6h.01M1460.5 490.5h.01M1654.1 1057.7h.01M1392.2 1332h.01M1261.8 1467.7h.01M975 726.8h.01M1521.3 992.1h.01M1023.4 859h.01M1174.3 1268h.01M1556.6 1107.9h.01M1638.1 889.3h.01M1697.4 1058.2h.01M1193.8 809h.01M1775.8 791.2h.01M968.7 974.4h.01M1141.8 1047.9h.01M1413.2 966.6h.01M1632.8 761.6h.01M1209.5 474.4h.01M1174.2 745.3h.01M1734.1 943.5h.01M919.3 903.7h.01M1273.5 1192.2h.01M913.7 990.9h.01M1337.5 664.2h.01M1141.2 1188.1h.01M1414.2 1082h.01M1302.6 870.7h.01M1319.4 1033.2h.01M1381.7 582.4h.01M1625.2 1088.6h.01M1548.6 910.8h.01M1166 1248.8h.01M1656.9 738.9h.01M1505.2 887.2h.01M1198.3 519.7h.01M1056.8 655.2h.01M1280 1478.6h.01M1440.2 1034h.01M1677.7 787.2h.01M1462.4 320.8h.01M1081.5 1011.9h.01M1361.9 1151.5h.01M1261.4 553.2h.01M1617 876h.01M872.7 904.4h.01M1639.3 657.9h.01M1513.5 394h.01M1125 1038.8h.01M1100.5 1001.6h.01M1002.1 823.6h.01M1266.2 678.6h.01M1253.6 950.3h.01M1263.2 619.7h.01M1415.8 1329.9h.01M1584.6 940h.01M1488 1073.3h.01M1564.7 1162.2h.01M1204.4 1143.9h.01M1472.7 1251.3h.01M1688 742.8h.01M1377.1 809.4h.01M1528.7 1121.5h.01" stroke="#490092" stroke-width="38.4" stroke-linecap="round" fill="none"/>
<path d="M584.8 936.1h.01M516 953.3h.01M549.1 989h.01M568.9 986.3h.01M525.3 1008.8h.01M539.8 1011.5h.01M613.9 994.3h.01M633.8 978.4h.01M645.7 969.2h.01M651 1011.5h.01M681.4 1012.8h.01M640.4 1026h.01M611.3 1032.6h.01M632.4 1040.6h.01M584.8 1040.6h.01M566.3 1049.8h.01M591.4 1045.9h.01M574.2 1063.1h.01M621.9 1060.4h.01M647 1060.4h.01M664.2 1049.8h.01M1409.5 206.7h.01M1424.1 337.1h.01M1380.4 371.3h.01M1416.1 381.3h.01M1461.9 373.9h.01M1199.2 407h.01M1421.4 404.3h.01M1469 407h.01M1318.3 405.1h.01M1227 426.3h.01M1426.7 430.3h.01M1256.1 439.5h.01M1279.4 438.2h.01M1328.8 438.2h.01M1443.1 458.8h.01M1402.9 464.7h.01M1545.8 448.8h.01M1330.2 475.2h.01M1372 489.8h.01M1315.6 493.8h.01M1237 505.1h.01M1256.1 513.6h.01M1511.4 493h.01M1459.8 520.2h.01M1511.9 520.2h.01M1339.4 511h.01M1220.4 528.1h.01M1380.4 528.1h.01M1323.5 376h.01M1077.5 535.3h.01M1196.5 543.2h.01M1219 561.7h.01M1236.2 564.4h.01M1130.4 564.4h.01M1221.6 593.5h.01M1143.6 609.4h.01M1217.7 614.7h.01M1236.2 617.3h.01M1069 629.2h.01M1159.5 631.9h.01M1240.2 645.6h.01M1088 654.3h.01M1213.7 674.2h.01M1240.2 682.9h.01M1054.2 694h.01M1221.6 699.3h.01M1252.1 746.9h.01M1134.3 758.8h.01M1185.9 762.8h.01M1024.6 752.2h.01M1031.2 776h.01M958.4 785.3h.01M1062.9 793.2h.01M1119.8 790.6h.01M1188.6 790.6h.01M1246.8 793.2h.01M1164.8 806.5h.01M861.9 806.5h.01M1006 805.1h.01M965 821h.01M1021.9 830.3h.01M988.8 839.5h.01M995.4 851.4h.01M1073.5 866h.01M1252.1 831.6h.01M1252.1 866h.01M839.4 884.5h.01M1016.6 885.8h.01M1103.9 884.5h.01M1154.2 879.2h.01M1254.7 884.5h.01M1172.7 899h.01M1117.1 900.4h.01M941.2 914.9h.01M974.3 914.9h.01M908.1 924.2h.01M864.5 922.9h.01M1085.4 917.6h.01M1069.5 918.9h.01M1151.5 900.4h.01M1193.9 921.5h.01M998.1 925.5h.01M1217.7 885.8h.01M1254.7 924.2h.01M1381.7 535.3h.01M1435.9 540.6h.01M1463.7 537.9h.01M1496.8 540.6h.01M1510 530h.01M1289.1 553.8h.01M1299.7 553.8h.01M1310.3 561.7h.01M1391 564.4h.01M1491.5 556.5h.01M1498.1 569.7h.01M1581.4 549.8h.01M1611.9 565.7h.01M1291.7 581.6h.01M1341.5 586.9h.01M1525.9 584.2h.01M1558.9 593.5h.01M1306.3 609.4h.01M1373.2 601.4h.01M1415.6 602.8h.01M1626.4 610.7h.01M1437.2 650.4h.01M1285.1 679.5h.01M1519.3 661h.01M1432 682.1h.01M1445.2 695.3h.01M1445.2 709.9h.01M1389.6 672.9h.01M1387 703.3h.01M1603.9 679.5h.01M1647.6 679.5h.01M1671.4 679.5h.01M1708.4 674.2h.01M1734.9 674.2h.01M1725.6 686.1h.01M1281.2 731.1h.01M1305 729.7h.01M1323.5 728.4h.01M1603.9 721.8h.01M1592 735h.01M1676.7 727.9h.01M1709.7 733.7h.01M1410.8 746.9h.01M1479.6 744.3h.01M1503.4 754.9h.01M1504.7 764.1h.01M1611.9 766.8h.01M1651.5 764.1h.01M1664.8 756.2h.01M1666.1 772.1h.01M1696.5 762.8h.01M1719 760.2h.01M1715 777.4h.01M1291.7 764.1h.01M1392.3 764.1h.01M1336.7 786.6h.01M1347.3 789.3h.01M1426.7 790.6h.01M1481.7 784h.01M1584.1 793.2h.01M1551 799.8h.01M1601.3 810.4h.01M1630.4 807.8h.01M1670.1 814.4h.01M1695.2 799.8h.01M1707.1 814.4h.01M1277.2 818.4h.01M1360.5 826.3h.01M1482.2 817h.01M1545.7 831.6h.01M1564.2 826.3h.01M1598.6 844.8h.01M1622.4 834.2h.01M1659.5 838.2h.01M1687.2 839.5h.01M1726.9 830.3h.01M1757.4 823.7h.01M1480.9 846.1h.01M1512.6 844.8h.01M1552.3 862h.01M1712.4 854.1h.01M1726.9 851.4h.01M1752.1 854.1h.01M1520.6 871.3h.01M1528.5 873.9h.01M1581.4 872.6h.01M1594.7 864.7h.01M1417.4 871.3h.01M1322.2 892.4h.01M1342 893.8h.01M1581.4 896.4h.01M1613.2 895.1h.01M1656.8 897.7h.01M1664.8 892.4h.01M1689.9 889.8h.01M1723 895.1h.01M1730.9 891.1h.01M1502.1 909.6h.01M1699.2 911h.01M1752.1 913.6h.01M1387 913.6h.01M1416.1 911h.01M1361.9 926.8h.01M1524.6 926.8h.01M1630.4 924.2h.01M1662.1 921.5h.01M1551 929.5h.01M1266.6 643.8h.01M1790.4 674.2h.01M1783.8 691.4h.01M1783.3 726.3h.01M1774.6 769.4h.01M1790.4 777.4h.01M1839.9 790.6h.01M1935.1 783.4h.01M1820.8 831.6h.01M1813.7 854.1h.01M864.5 930h.01M916.1 972.3h.01M946.5 978.9h.01M902.9 1008h.01M976.9 940.6h.01M1040.4 940.6h.01M1033.8 981.6h.01M1020.6 1002.8h.01M1020.6 1018.6h.01M1102.6 955.1h.01M1144.9 949.8h.01M1160.8 971h.01M1174 963.1h.01M1208.4 961.7h.01M1238.8 964.4h.01M1233.5 996.1h.01M1121.1 994.8h.01M1175.3 1018.6h.01M1064.2 1034.5h.01M1074.8 1046.4h.01M1160.8 1045.1h.01M877.7 1064.1h.01M969 1081.6h.01M1229.6 1072.9h.01M1123.8 1099.3h.01M1121.1 1116.5h.01M1248.1 1135h.01M1168.7 1152.2h.01M1163.4 1168.1h.01M1129 1168.9h.01M1217.7 1157.5h.01M1238.8 1169.4h.01M1183.3 1181.3h.01M1258.7 1160.2h.01M1192.5 1201.2h.01M1156 1203h.01M1127.2 1212.5h.01M916.1 1232.9h.01M1143.6 1243.5h.01M1123.8 1273.1h.01M1254.7 1279.2h.01M1254.7 1291.1h.01M1209.7 1328.1h.01M1230.9 937.9h.01M1189.9 928.7h.01M1077.5 928.7h.01M1260 1099.3h.01M1274.6 951.2h.01M1273.2 969.7h.01M1332.8 964.4h.01M1394.9 943.2h.01M1387 932.6h.01M1351.3 930h.01M1392.3 969.7h.01M1471.6 943.2h.01M1524.6 935.3h.01M1553.7 953.8h.01M1527.2 964.4h.01M1564.2 961.7h.01M1603.9 935.3h.01M1614.5 959.1h.01M1638.3 964.4h.01M1656.8 930h.01M1692.5 949.8h.01M1696.5 964.4h.01M1697.8 981.6h.01M1757.4 981.6h.01M1299.7 993.5h.01M1354.7 990.8h.01M1412.1 1005.4h.01M1471.6 1010.7h.01M1524.6 1013.3h.01M1540.4 986.9h.01M1572.2 986.9h.01M1580.1 998.8h.01M1607.9 989.5h.01M1614.5 1001.4h.01M1629 1008h.01M1293.1 1014.7h.01M1285.1 1019.9h.01M1339.4 1017.3h.01M1372.4 1018.6h.01M1392.3 1018.6h.01M1380.4 1033.2h.01M1421.4 1025.2h.01M1590.7 1017.3h.01M1593.3 1030.5h.01M1558.9 1039.8h.01M1622.4 1027.9h.01M1683.3 1016h.01M1725.6 1019.9h.01M1699.2 1038.5h.01M1306.3 1050.4h.01M1336.7 1043.8h.01M1349.9 1049h.01M1352.6 1059.6h.01M1275.9 1064.9h.01M1299.7 1072.9h.01M1312.9 1074.2h.01M1414.8 1059.6h.01M1434.6 1059.6h.01M1447.8 1054.3h.01M1475.6 1057h.01M1517.9 1059.6h.01M1527.2 1067.6h.01M1572.2 1050.4h.01M1578.8 1059.6h.01M1629 1061h.01M1677.2 1061.5h.01M1732.2 1061.5h.01M1711.1 1075h.01M1270.6 1099.3h.01M1383 1080.8h.01M1394.9 1074.2h.01M1433.3 1078.1h.01M1445.2 1080.8h.01M1429.3 1099.3h.01M1459.7 1091.4h.01M1469 1099.3h.01M1535.1 1096.7h.01M1574.8 1087.4h.01M1588 1088.7h.01M1601.3 1100.6h.01M1581.4 1105.9h.01M1639.6 1103.8h.01M1671.4 1088.7h.01M1499.4 1091.4h.01M1359.2 1112.5h.01M1349.9 1125.8h.01M1429.3 1127.1h.01M1463.7 1123.1h.01M1471.6 1112.5h.01M1490.2 1128.4h.01M1484.9 1141.6h.01M1503.4 1146.9h.01M1532.5 1141.6h.01M1547 1154.9h.01M1586.7 1128.4h.01M1573.5 1145.6h.01M1588 1160.2h.01M1651.5 1145.6h.01M1670.1 1150.9h.01M1289.1 1144.3h.01M1376.4 1136.3h.01M1401.5 1149.6h.01M1302.3 1131.1h.01M1266.6 1139h.01M1435.9 1149.6h.01M1269.3 1165.4h.01M1310.3 1168.1h.01M1330.1 1161.5h.01M1353.9 1170.7h.01M1392.3 1182.6h.01M1435.9 1165.4h.01M1458.4 1173.4h.01M1453.1 1180h.01M1500.7 1173.4h.01M1523.2 1177.4h.01M1573.5 1180h.01M1641 1180h.01M1297 1194.6h.01M1479.6 1193.2h.01M1496.8 1202.5h.01M1514 1205.1h.01M1535.1 1207.8h.01M1552.3 1199.8h.01M1578.8 1206.5h.01M1633 1209.1h.01M1540.4 1218.4h.01M1392.3 1214.4h.01M1422.7 1217h.01M1442.5 1225h.01M1469 1228.9h.01M1487.5 1238.2h.01M1508.7 1234.2h.01M1499.4 1250.1h.01M1352.6 1238.2h.01M1363.2 1244.8h.01M1373.8 1252.8h.01M1305 1232.9h.01M1310.3 1247.5h.01M1416.1 1240.8h.01M1424 1251.4h.01M1447.8 1244.8h.01M1667.4 1221h.01M1274.6 1221h.01M1351.3 1214.4h.01M1511.3 1256.7h.01M1402.9 1262h.01M1397.6 1281.9h.01M1381.7 1287.1h.01M1316.9 1264.7h.01M1320.8 1273.9h.01M1565.6 1271.3h.01M1535.1 1275.2h.01M1507.4 1281.9h.01M1439.9 1295.1h.01M1346 1297.7h.01M1293.1 1305.7h.01M1506 1300.4h.01M1593.3 1299h.01M1619.8 1305.7h.01M1312.9 1311h.01M1326.1 1318.9h.01M1344.7 1321.5h.01M1445.2 1318.9h.01M1463.7 1318.9h.01M1434.6 1326.8h.01M1499.4 1326.8h.01M1580.1 1328.1h.01M1265.3 1326.8h.01M1801 986.3h.01M1798.9 1022.6h.01M1807.6 1064.9h.01M1095.4 1348.5h.01M1207.8 1335.3h.01M1234.3 1351.2h.01M1251.5 1340.6h.01M1175.3 1371h.01M1308.4 1372.3h.01M1284.6 1386.9h.01M1300.4 1396.1h.01M1313.7 1396.1h.01M1284.6 1404.1h.01M1356 1369.7h.01M1353.3 1348.5h.01M1366.6 1353.8h.01M1398.3 1353.8h.01M1408.9 1355.1h.01M1443.3 1361.7h.01M1453.9 1345.9h.01M1469.7 1351.2h.01M1485.6 1340.6h.01M1514.7 1371h.01M1411.5 1380.3h.01M1424.8 1382.9h.01M1403.6 1396.1h.01M1467.1 1382.9h.01M1448.6 1393.5h.01M1438 1404.1h.01M1393 1409.4h.01M1404.9 1422.6h.01M1140.4 1414.7h.01M1166.3 1416h.01M1234.3 1409.4h.01M1259.4 1413.3h.01M1242.2 1430.5h.01M1102 1428.4h.01M1203.9 1433.2h.01M1329.5 1421.3h.01M1365.2 1431.9h.01M1300.4 1449h.01M1334.8 1454.3h.01M1215.8 1449h.01M1385.1 1455.7h.01M1427.4 1451.7h.01M1492.2 1458.3h.01M1204.4 1467.6h.01M1398.8 1480.8h.01M1434 1486.1h.01M1445.9 1488.7h.01M1472.9 1498h.01M1239 1504.6h.01M1274 1507.2h.01M1292.5 1505.9h.01M1396.2 1556.2h.01M1580.8 1337.9h.01M1575.6 1364.4h.01M1591.4 1364.4h.01M1469.8 637.1h.01" stroke="#24FF24" stroke-width="26.6" stroke-linecap="round" fill="none"/>
<path d="M508.1 859.4h.01M599.4 916.2h.01M516 911h.01M489.6 911h.01M500.2 932.1h.01M527.9 937.4h.01M557 924.2h.01M545.1 948h.01M563.7 941.4h.01M582.2 950.6h.01M566.3 959.9h.01M554.4 954.6h.01M517.4 977.1h.01M527.9 978.4h.01M517.4 990.3h.01M1205.8 153.3h.01M1490.7 257.5h.01M1553.7 269.4h.01M1522.5 294.6h.01M1204.5 339h.01M1215.1 343h.01M1373.8 333.7h.01M1323.5 353.5h.01M1320.9 369.4h.01M1316.4 390.6h.01M1535.2 365.4h.01M1533.9 389.3h.01M1393.1 398.5h.01M1391 421h.01M1537.8 425h.01M1246.8 428.4h.01M1197.4 434.2h.01M1313.8 438.2h.01M1399.5 448.8h.01M1558.5 450.1h.01M1519.3 461.2h.01M1265.9 493h.01M1439.9 500.4h.01M1426.7 509.6h.01M1327.5 508.3h.01M1176.7 518.9h.01M1549.7 524.2h.01M1332.8 524.2h.01M1412.2 528.1h.01M1714.3 397.2h.01M1799.7 524.2h.01M1035.1 545.9h.01M1168.7 537.9h.01M1209.7 547.2h.01M1232.2 547.2h.01M1061.6 564.4h.01M1069.5 576.3h.01M1178 580.3h.01M1204.4 582.9h.01M1103.9 598.8h.01M1117.1 592.2h.01M1130.4 592.2h.01M1237.5 604.1h.01M1175.3 625.2h.01M1203.1 628.4h.01M1141 637.1h.01M1079.6 643.8h.01M1125.1 659.6h.01M1076.1 675.5h.01M1096 684.8h.01M1113.2 686.1h.01M1185.1 672.9h.01M968.5 694h.01M1142.8 695.3h.01M1211.6 708h.01M1245.4 696.7h.01M1257.4 707.2h.01M877.2 743h.01M1078.8 728.4h.01M1188.6 727.1h.01M1205.8 741.6h.01M1061.6 743h.01M1041.7 745.6h.01M1111.3 750.9h.01M963.7 760.2h.01M1200.5 760.2h.01M1171.9 772.6h.01M1110.5 777.4h.01M1248.1 770.7h.01M1014 801.2h.01M981.7 809.1h.01M1144.9 801.2h.01M1036.5 815.7h.01M1051 825h.01M1118.5 815.7h.01M1146.2 828.9h.01M1164.8 828.9h.01M1197.8 830.3h.01M924 831.6h.01M914.8 842.2h.01M1154.2 843.5h.01M1078.3 850.1h.01M966.3 856.7h.01M951.8 864.7h.01M968.5 876.6h.01M897.6 867.3h.01M920.1 884.5h.01M1007.9 872.6h.01M1176.1 867.3h.01M1150.2 889.8h.01M1070.8 901.7h.01M1109.2 907h.01M1168.7 903h.01M957.1 921.5h.01M1352.6 547.2h.01M1324.8 558.6h.01M1412.1 535.3h.01M1406.8 553.8h.01M1407.6 580.3h.01M1269.3 576.3h.01M1278 602.8h.01M1320.3 626.6h.01M1396.2 622.1h.01M1308.9 650.4h.01M1357.4 647.7h.01M1397 674.2h.01M1394.9 702.5h.01M1523.2 658.3h.01M1483 684.2h.01M1610.5 605.4h.01M1683.3 575h.01M1666.1 655.7h.01M1731.7 653h.01M1592.5 700.6h.01M1296.5 717.8h.01M1336.2 727.9h.01M1338.8 752.2h.01M1463.7 740.8h.01M1476.9 740.3h.01M1495.4 733.7h.01M1553.7 746.4h.01M1383.8 750.9h.01M1310.3 765.4h.01M1301 781.3h.01M1307.6 791.9h.01M1719 739h.01M1570.8 802.5h.01M1572.2 822.3h.01M1644.1 825.8h.01M1384.3 832.9h.01M1286.5 855.4h.01M1279.8 872.6h.01M1491.5 846.9h.01M1496.8 868.6h.01M1627.7 859.4h.01M1382.2 869.9h.01M1408.1 869.9h.01M1439.4 877.9h.01M1409.5 897.7h.01M1430.6 901.7h.01M1474.3 913.6h.01M1441.2 924.2h.01M1549.7 532.6h.01M1911.6 733.7h.01M914.2 946.4h.01M867.9 963.1h.01M889.6 985.6h.01M984.9 957.8h.01M1002.1 965.7h.01M1017.9 936.6h.01M955.8 928.7h.01M1051 996.1h.01M1177.5 945.9h.01M1220.3 978.9h.01M1134.3 997.5h.01M1162.9 1002h.01M1207.1 995.6h.01M974.3 1033.2h.01M1220.3 1031.9h.01M1021.1 1053h.01M924 1080.3h.01M1201.3 1086.6h.01M1184.6 1136.3h.01M1094.7 1200.4h.01M993.3 1234.2h.01M1183.3 1231.6h.01M1096 1258.8h.01M1177.5 1286.6h.01M1258.7 1215.7h.01M1441.2 931.3h.01M1484.9 941.9h.01M1540.4 947.2h.01M1565.6 941.9h.01M1627.2 958.6h.01M1457.1 957.8h.01M1439.4 968.4h.01M1389.6 977.6h.01M1551 993.5h.01M1332 1000.1h.01M1437.2 998.8h.01M1426.7 1009.4h.01M1355.8 1021.3h.01M1460.3 1030.5h.01M1395.7 1053h.01M1392.3 1062.3h.01M1545.7 1074.2h.01M1363.2 1086.1h.01M1373.8 1099.3h.01M1385.7 1109.9h.01M1440.7 1117h.01M1323.5 1119.2h.01M1307.6 1127.1h.01M1330.1 1141.6h.01M1374.3 1169.4h.01M1297.8 1186.6h.01M1269.3 1215.7h.01M1324.8 1223.7h.01M1380.9 1227.6h.01M1630.4 1238.2h.01M1282.5 1257.2h.01M1346.8 1260.7h.01M1566.3 1255.4h.01M1437.8 1278.7h.01M1288.6 1285.8h.01M1359.2 1326.8h.01M1303.1 1347.2h.01M1322.9 1345.9h.01M1359.9 1334h.01M1109.9 1371h.01M1270 1421.3h.01M1213.1 1441.1h.01M1338.8 1439h.01M1281.9 1498h.01" stroke="#FF6DB6" stroke-width="26.6" stroke-linecap="round" fill="none"/>
<path d="M334.8 943.5h.01M352.5 877.9h.01M359.9 880.5h.01M400.2 875.2h.01M383.8 889.8h.01M377.1 924.2h.01M377.1 959.4h.01M416.8 968.4h.01M430.1 892.4h.01M412.9 912.3h.01M411.5 922.9h.01M422.1 924.2h.01M414.2 940.1h.01M439.3 926.8h.01M452.5 932.1h.01M459.2 905.7h.01M473.7 901.7h.01M476.3 928.1h.01M458.4 958.6h.01M489 964.4h.01M504.9 945.3h.01M718.4 790.1h.01M751 827.6h.01M704.4 852h.01M1078.3 172.3h.01M1367.2 390.1h.01M1481.7 417.8h.01M1178.6 429.7h.01M1324.9 464.7h.01M1158.2 501.7h.01M800.2 681.3h.01M779 804.6h.01M1029.8 540.1h.01M1029.8 569.2h.01M976.4 622.6h.01M1151 570.5h.01M1196.5 571h.01M1189.9 596.7h.01M1158.1 614.1h.01M1109.7 668.9h.01M1077.5 693.5h.01M1096 699.3h.01M1141 712h.01M1012.6 718.4h.01M1043.1 727.1h.01M1025.9 735h.01M990.2 731.6h.01M1084.1 735h.01M1170.8 728.4h.01M984.3 760.7h.01M875.6 777.9h.01M1088 775.2h.01M1201.3 784h.01M847.3 809.6h.01M1042.5 811.7h.01M1100.7 826.3h.01M1178.8 838.2h.01M1241.5 816.2h.01M1254.2 791.9h.01M906.3 864.7h.01M853.1 870.7h.01M1029.8 860.7h.01M1040.4 866h.01M1221.6 869.4h.01M1221.6 889.8h.01M862.6 898.3h.01M1020.6 912.3h.01M1045.7 912.3h.01M975.6 922.9h.01M1151.5 911h.01M1254.7 911h.01M1342.5 603.5h.01M1275.3 631.9h.01M1442.5 784.5h.01M1323 873.4h.01M1633.5 868.6h.01M1283.3 913.6h.01M845.2 939.3h.01M822.2 982.9h.01M788.6 1031.3h.01M898.1 957.8h.01M906.3 1030h.01M973 1023.9h.01M1055.5 983.7h.01M1078.3 1005.4h.01M1098.1 1023.4h.01M1136.5 1009.4h.01M1164.8 1027.9h.01M1205.8 1021.3h.01M1221.6 1019.9h.01M1205.8 948.5h.01M1248.1 939.3h.01M982.2 1085.6h.01M1024.6 1097.2h.01M1048.4 1082.6h.01M1134.3 1081.6h.01M871.6 1136.9h.01M974.3 930h.01M1221.6 1326.8h.01M1378.5 949.8h.01M1503.4 1097.2h.01M1338.6 1130.5h.01M1354.4 1201.2h.01M1291.2 1217h.01M1221.6 1334h.01M1125.8 1378.1h.01M1137.7 1423.9h.01M1287.2 1431.9h.01M1184.8 1506.7h.01" stroke="#006DDB" stroke-width="26.6" stroke-linecap="round" fill="none"/>
</g>
<g id="pb">
<path d="M1183.6 1779.7h.01M1229.6 1867h.01M1174.1 1930.4h.01M1162.2 1978.1h.01M1132.3 2025.7h.01M1421.4 2048.2h.01M996.2 2136.5h.01M988.8 2150.6h.01M884.3 2208.2h.01M910 2268.8h.01M950.5 2239.2h.01M1044.4 2233.9h.01M1008.7 2284.1h.01M843.3 2412.5h.01M963.7 2448.2h.01M922.7 2313.2h.01M1236.2 2390h.01M1441.2 2137.3h.01M1342 2239.2h.01M1515.3 2382h.01M1416.1 2260.3h.01M1802.3 2387.3h.01M842.8 2521.5h.01M875.6 2588.9h.01M1036.5 2677.5h.01M986.2 2705.3h.01M1084.9 2837.6h.01M1107.4 2847.6h.01M897.6 2488.4h.01M1196.5 2864h.01M1102.5 2944.5h.01M1180.6 2991h.01M1256.2 2998.2h.01M1236.1 3019.3h.01M1291 1755.3h.01M1330.2 1795.5h.01M1395 1781h.01M1469 1792.9h.01M1484.9 1784.9h.01M1573.5 1825.4h.01M1425.4 1836h.01M1355.3 1837.9h.01M1360.6 1844.5h.01M1302.4 1848.4h.01M1319.6 1860.3h.01M1430.7 1864.3h.01M1575.4 1863.8h.01M1248.1 1889.4h.01M1273.3 1901.3h.01M1213.8 1905.3h.01M1340.7 1892.1h.01M1454.5 1889.4h.01M1406.9 1901.3h.01M1470.4 1908h.01M1491.5 1922.5h.01M1530.7 1901.3h.01M1303.7 1913.2h.01M1244.2 1922.5h.01M1272 1939.7h.01M1242.9 1942.4h.01M1338.1 1950.3h.01M1441.3 1929.1h.01M1496.8 1958.2h.01M1446.6 1955.6h.01M1211.1 1950.3h.01M1285.2 1966.2h.01M1507.4 1976.7h.01M1295.8 1968.8h.01M1465.1 1979.4h.01M1172.8 2012.5h.01M1192.6 2008.5h.01M1227 2005.8h.01M1256.1 2021.7h.01M1289.2 1999.2h.01M1340.7 1997.9h.01M1376.5 2020.4h.01M1414.8 2019.1h.01M1470.4 2000.6h.01M1467.7 2019.1h.01M1496.8 2021.7h.01M1541.8 2027h.01M1570.9 2019.1h.01M1594.7 2019.1h.01M1172.8 2045.5h.01M1197.9 2045.5h.01M1216.4 2056.1h.01M1285.2 2058.8h.01M1346 2029.7h.01M1375.1 2058.8h.01M1483.6 2045.5h.01M1528.6 2048.2h.01M1597.4 2053.5h.01M1589.4 2066.7h.01M1523.3 2066.7h.01M1441.3 2029.7h.01M1491.5 2061.4h.01M1703.2 2060.1h.01M1004.7 2154.5h.01M1035.1 2179.7h.01M1037.8 2198.2h.01M969 2202.1h.01M1008.7 2218h.01M982.2 2222h.01M912.6 2231.2h.01M1027.2 2249.8h.01M1011.3 2260.3h.01M926.7 2292.1h.01M945.2 2300h.01M873.8 2350.3h.01M932 2331.8h.01M971.6 2339.7h.01M942.5 2358.2h.01M939.9 2384.7h.01M1048.4 2315.9h.01M1072.2 2315.9h.01M1156.8 2305.3h.01M1090.7 2352.9h.01M1072.2 2368.8h.01M1111.9 2408.5h.01M887 2415.1h.01M831.4 2452.1h.01M892.3 2453.5h.01M1096 2419.1h.01M1196.5 2419.1h.01M1125.1 2427h.01M990.2 2442.9h.01M1193.9 2448.2h.01M1225.6 2461.4h.01M1072.2 2091h.01M1088 2125.4h.01M1077.5 2151.9h.01M1111.9 2112.2h.01M1103.9 2170.4h.01M1114.5 2188.9h.01M1151.5 2225.9h.01M1172.7 2247.1h.01M1193.9 2196.8h.01M1225.6 2188.9h.01M1254.7 2143.9h.01M1254.7 2210.1h.01M1167.4 2233.9h.01M1103.9 2268.3h.01M1125.1 2278.9h.01M1154.2 2297.4h.01M1225.6 2278.9h.01M1254.7 2273.6h.01M1090.7 2297.4h.01M1053.7 2310.6h.01M1072.2 2331.8h.01M1085.4 2342.4h.01M1217.7 2308h.01M1225.6 2331.8h.01M1217.7 2355.6h.01M1207.1 2395.3h.01M1228.3 2387.3h.01M1193.9 2403.2h.01M1178 2434.9h.01M1236.2 2448.2h.01M1130.4 2469.3h.01M1172.7 2472h.01M1225.6 2474.6h.01M1658.1 2097.6h.01M1697.8 2116.2h.01M1757.4 2151.9h.01M1703.1 2075.2h.01M1524.6 2099h.01M1551 2093.7h.01M1593.3 2085.7h.01M1432 2114.8h.01M1461.1 2125.4h.01M1590.7 2133.4h.01M1627.7 2130.7h.01M1638.3 2146.6h.01M1564.2 2157.2h.01M1598.6 2183.6h.01M1552.3 2194.2h.01M1646.2 2183.6h.01M1659.5 2178.3h.01M1492.8 2212.7h.01M1585.4 2212.7h.01M1627.7 2223.3h.01M1349.9 2225.9h.01M1537.8 2233.9h.01M1514 2236.5h.01M1566.9 2247.1h.01M1614.5 2249.8h.01M1667.4 2247.1h.01M1688.6 2268.3h.01M1275.9 2204.8h.01M1371.1 2178.3h.01M1339.4 2188.9h.01M1408.1 2188.9h.01M1320.8 2134.7h.01M1373.8 2268.3h.01M1402.9 2276.2h.01M1432 2278.9h.01M1498.1 2257.7h.01M1524.6 2257.7h.01M1545.7 2260.3h.01M1572.2 2268.3h.01M1638.3 2278.9h.01M1749.4 2289.4h.01M1754.7 2310.6h.01M1275.9 2247.1h.01M1267.9 2302.7h.01M1365.8 2286.8h.01M1461.1 2315.9h.01M1529.8 2308h.01M1564.2 2310.6h.01M1630.4 2289.4h.01M1738.8 2323.8h.01M1371.1 2337.1h.01M1392.3 2337.1h.01M1508.7 2339.7h.01M1524.6 2329.1h.01M1611.9 2339.7h.01M1736.2 2347.6h.01M1417.4 2363.5h.01M1326.1 2371.5h.01M1297 2368.8h.01M1445.2 2374.1h.01M1461.1 2368.8h.01M1363.2 2395.3h.01M1424 2390h.01M1450.5 2392.6h.01M1267.9 2390h.01M1529.8 2397.9h.01M1664.8 2416.4h.01M1693.9 2416.4h.01M1736.2 2421.7h.01M1352.6 2419.1h.01M1551 2437.6h.01M1299.7 2442.9h.01M1527.2 2448.2h.01M1638.3 2458.8h.01M1680.6 2466.7h.01M1725.6 2469.3h.01M1447.8 2458.8h.01M1822.2 2133.4h.01M1767.9 2154.5h.01M1773.2 2162.5h.01M1794.4 2183.6h.01M1869.8 2214.6h.01M1770.6 2289.4h.01M1794.4 2318.5h.01M1774.6 2358.2h.01M1775.9 2405.8h.01M1799.7 2419.1h.01M1767.9 2429.7h.01M783.3 2507.4h.01M955.8 2504.3h.01M984.9 2541.3h.01M918.7 2562.5h.01M963.7 2612.7h.01M942.5 2631.2h.01M987.5 2644.5h.01M1011.3 2620.7h.01M1035.1 2647.1h.01M1058.9 2625.9h.01M1020.6 2583.6h.01M1101.3 2594.2h.01M1126.4 2610.1h.01M1102.6 2640.5h.01M1178 2618h.01M1141 2647.1h.01M1172.7 2649.8h.01M1058.9 2689.4h.01M1021.9 2711.9h.01M1029.3 2747.6h.01M1085.4 2725.2h.01M1093.3 2715.9h.01M1068.2 2784.7h.01M1000.7 2811.1h.01M1058.9 2836.3h.01M1076.1 2860.1h.01M1151.5 2864h.01M1215 2821.7h.01M1228.3 2853.5h.01M1215 2668.3h.01M1241.5 2636.5h.01M1223 2742.4h.01M1236.2 2768.8h.01M1254.7 2731.8h.01M1209.7 2768.8h.01M1156.8 2771.5h.01M1109.2 2768.8h.01M1204.4 2816.4h.01M1167.4 2858.8h.01M1077.5 2509.5h.01M1103.9 2530.7h.01M1066.9 2504.3h.01M1257.4 2596.8h.01M1230.9 2596.8h.01M1193.9 2602.1h.01M1209.7 2641.8h.01M1143.6 2689.4h.01M1196.5 2710.6h.01M1051 2565.1h.01M950.5 2543.9h.01M929.3 2493.7h.01M1757.4 2499h.01M1733.5 2536h.01M1709.7 2543.9h.01M1678 2581h.01M1651.5 2570.4h.01M1656.8 2543.9h.01M1760 2663h.01M1709.7 2663h.01M1688.6 2652.4h.01M1672.7 2668.3h.01M1725.6 2686.8h.01M1704.4 2678.9h.01M1712.4 2734.4h.01M1697.8 2762.2h.01M1609.2 2710.6h.01M1601.3 2721.2h.01M1611.9 2752.9h.01M1603.9 2779.4h.01M1596 2795.3h.01M1603.9 2819.1h.01M1635.7 2829.7h.01M1729.6 2813.8h.01M1524.6 2856.1h.01M1545.7 2819.1h.01M1769.3 2508.2h.01M1162.9 2879.1h.01M1147 2881.8h.01M1189.3 2896.3h.01M1258.1 2912.2h.01M1165.5 2943.9h.01M1209.2 2933.4h.01M1221.1 2946.6h.01M1250.2 2930.7h.01M1332.2 2930.7h.01M1337.5 2914.8h.01M1374.5 2888.4h.01M1311 2885.7h.01M1432.7 2885.7h.01M1509.4 2891h.01M1247.5 2988.9h.01M1287.2 3007.4h.01M1312.3 3018h.01M1365.2 3024.6h.01M1350.7 2973h.01M1459.2 2973h.01M1493.5 3067h.01M1356 3111.4h.01M1405.7 3134.4h.01M1427.4 3018h.01M1377.1 2941.3h.01M1274 2906.9h.01M1594.1 2889.7h.01M1567.6 2924.1h.01M1671.3 3016.2h.01M1409.5 1754.5h.01M1424.1 1884.9h.01M1380.4 1919.1h.01M1416.1 1929.1h.01M1461.9 1921.7h.01M1199.2 1954.8h.01M1421.4 1952.1h.01M1469 1954.8h.01M1318.3 1952.9h.01M1227 1974.1h.01M1426.7 1978.1h.01M1256.1 1987.3h.01M1279.4 1986h.01M1328.8 1986h.01M1443.1 2006.6h.01M1402.9 2012.5h.01M1545.8 1996.6h.01M1330.2 2023h.01M1372 2037.6h.01M1315.6 2041.6h.01M1237 2052.9h.01M1256.1 2061.4h.01M1511.4 2040.8h.01M1459.8 2068h.01M1511.9 2068h.01M1339.4 2058.8h.01M1220.4 2075.9h.01M1380.4 2075.9h.01M1323.5 1923.8h.01M1077.5 2083.1h.01M1196.5 2091h.01M1219 2109.5h.01M1236.2 2112.2h.01M1130.4 2112.2h.01M1221.6 2141.3h.01M1143.6 2157.2h.01M1217.7 2162.5h.01M1236.2 2165.1h.01M1069 2177h.01M1159.5 2179.7h.01M1240.2 2193.4h.01M1088 2202.1h.01M1213.7 2222h.01M1240.2 2230.7h.01M1054.2 2241.8h.01M1221.6 2247.1h.01M1252.1 2294.7h.01M1134.3 2306.6h.01M1185.9 2310.6h.01M1024.6 2300h.01M1031.2 2323.8h.01M958.4 2333.1h.01M1062.9 2341h.01M1119.8 2338.4h.01M1188.6 2338.4h.01M1246.8 2341h.01M1164.8 2354.3h.01M861.9 2354.3h.01M1006 2352.9h.01M965 2368.8h.01M1021.9 2378.1h.01M988.8 2387.3h.01M995.4 2399.2h.01M1073.5 2413.8h.01M1252.1 2379.4h.01M1252.1 2413.8h.01M839.4 2432.3h.01M1016.6 2433.6h.01M1103.9 2432.3h.01M1154.2 2427h.01M1254.7 2432.3h.01M1172.7 2446.8h.01M1117.1 2448.2h.01M941.2 2462.7h.01M974.3 2462.7h.01M908.1 2472h.01M864.5 2470.7h.01M1085.4 2465.4h.01M1069.5 2466.7h.01M1151.5 2448.2h.01M1193.9 2469.3h.01M998.1 2473.3h.01M1217.7 2433.6h.01M1254.7 2472h.01M1381.7 2083.1h.01M1435.9 2088.4h.01M1463.7 2085.7h.01M1496.8 2088.4h.01M1510 2077.8h.01M1289.1 2101.6h.01M1299.7 2101.6h.01M1310.3 2109.5h.01M1391 2112.2h.01M1491.5 2104.3h.01M1498.1 2117.5h.01M1581.4 2097.6h.01M1611.9 2113.5h.01M1291.7 2129.4h.01M1341.5 2134.7h.01M1525.9 2132h.01M1558.9 2141.3h.01M1306.3 2157.2h.01M1373.2 2149.2h.01M1415.6 2150.6h.01M1626.4 2158.5h.01M1437.2 2198.2h.01M1285.1 2227.3h.01M1519.3 2208.8h.01M1432 2229.9h.01M1445.2 2243.1h.01M1445.2 2257.7h.01M1389.6 2220.7h.01M1387 2251.1h.01M1603.9 2227.3h.01M1647.6 2227.3h.01M1671.4 2227.3h.01M1708.4 2222h.01M1734.9 2222h.01M1725.6 2233.9h.01M1281.2 2278.9h.01M1305 2277.5h.01M1323.5 2276.2h.01M1603.9 2269.6h.01M1592 2282.8h.01M1676.7 2275.7h.01M1709.7 2281.5h.01M1410.8 2294.7h.01M1479.6 2292.1h.01M1503.4 2302.7h.01M1504.7 2311.9h.01M1611.9 2314.6h.01M1651.5 2311.9h.01M1664.8 2304h.01M1666.1 2319.9h.01M1696.5 2310.6h.01M1719 2308h.01M1715 2325.2h.01M1291.7 2311.9h.01M1392.3 2311.9h.01M1336.7 2334.4h.01M1347.3 2337.1h.01M1426.7 2338.4h.01M1481.7 2331.8h.01M1584.1 2341h.01M1551 2347.6h.01M1601.3 2358.2h.01M1630.4 2355.6h.01M1670.1 2362.2h.01M1695.2 2347.6h.01M1707.1 2362.2h.01M1277.2 2366.2h.01M1360.5 2374.1h.01M1482.2 2364.8h.01M1545.7 2379.4h.01M1564.2 2374.1h.01M1598.6 2392.6h.01M1622.4 2382h.01M1659.5 2386h.01M1687.2 2387.3h.01M1726.9 2378.1h.01M1757.4 2371.5h.01M1480.9 2393.9h.01M1512.6 2392.6h.01M1552.3 2409.8h.01M1712.4 2401.9h.01M1726.9 2399.2h.01M1752.1 2401.9h.01M1520.6 2419.1h.01M1528.5 2421.7h.01M1581.4 2420.4h.01M1594.7 2412.5h.01M1417.4 2419.1h.01M1322.2 2440.2h.01M1342 2441.6h.01M1581.4 2444.2h.01M1613.2 2442.9h.01M1656.8 2445.5h.01M1664.8 2440.2h.01M1689.9 2437.6h.01M1723 2442.9h.01M1730.9 2438.9h.01M1502.1 2457.4h.01M1699.2 2458.8h.01M1752.1 2461.4h.01M1387 2461.4h.01M1416.1 2458.8h.01M1361.9 2474.6h.01M1524.6 2474.6h.01M1630.4 2472h.01M1662.1 2469.3h.01M1551 2477.3h.01M1266.6 2191.6h.01M1790.4 2222h.01M1783.8 2239.2h.01M1783.3 2274.1h.01M1774.6 2317.2h.01M1790.4 2325.2h.01M1839.9 2338.4h.01M1935.1 2331.2h.01M1820.8 2379.4h.01M1813.7 2401.9h.01M864.5 2477.8h.01M916.1 2520.1h.01M946.5 2526.7h.01M902.9 2555.8h.01M976.9 2488.4h.01M1040.4 2488.4h.01M1033.8 2529.4h.01M1020.6 2550.6h.01M1020.6 2566.4h.01M1102.6 2502.9h.01M1144.9 2497.6h.01M1160.8 2518.8h.01M1174 2510.9h.01M1208.4 2509.5h.01M1238.8 2512.2h.01M1233.5 2543.9h.01M1121.1 2542.6h.01M1175.3 2566.4h.01M1064.2 2582.3h.01M1074.8 2594.2h.01M1160.8 2592.9h.01M877.7 2611.9h.01M969 2629.4h.01M1229.6 2620.7h.01M1123.8 2647.1h.01M1121.1 2664.3h.01M1248.1 2682.8h.01M1168.7 2700h.01M1163.4 2715.9h.01M1129 2716.7h.01M1217.7 2705.3h.01M1238.8 2717.2h.01M1183.3 2729.1h.01M1258.7 2708h.01M1192.5 2749h.01M1156 2750.8h.01M1127.2 2760.3h.01M916.1 2780.7h.01M1143.6 2791.3h.01M1123.8 2820.9h.01M1254.7 2827h.01M1254.7 2838.9h.01M1209.7 2875.9h.01M1230.9 2485.7h.01M1189.9 2476.5h.01M1077.5 2476.5h.01M1260 2647.1h.01M1274.6 2499h.01M1273.2 2517.5h.01M1332.8 2512.2h.01M1394.9 2491h.01M1387 2480.4h.01M1351.3 2477.8h.01M1392.3 2517.5h.01M1471.6 2491h.01M1524.6 2483.1h.01M1553.7 2501.6h.01M1527.2 2512.2h.01M1564.2 2509.5h.01M1603.9 2483.1h.01M1614.5 2506.9h.01M1638.3 2512.2h.01M1656.8 2477.8h.01M1692.5 2497.6h.01M1696.5 2512.2h.01M1697.8 2529.4h.01M1757.4 2529.4h.01M1299.7 2541.3h.01M1354.7 2538.6h.01M1412.1 2553.2h.01M1471.6 2558.5h.01M1524.6 2561.1h.01M1540.4 2534.7h.01M1572.2 2534.7h.01M1580.1 2546.6h.01M1607.9 2537.3h.01M1614.5 2549.2h.01M1629 2555.8h.01M1293.1 2562.5h.01M1285.1 2567.7h.01M1339.4 2565.1h.01M1372.4 2566.4h.01M1392.3 2566.4h.01M1380.4 2581h.01M1421.4 2573h.01M1590.7 2565.1h.01M1593.3 2578.3h.01M1558.9 2587.6h.01M1622.4 2575.7h.01M1683.3 2563.8h.01M1725.6 2567.7h.01M1699.2 2586.3h.01M1306.3 2598.2h.01M1336.7 2591.6h.01M1349.9 2596.8h.01M1352.6 2607.4h.01M1275.9 2612.7h.01M1299.7 2620.7h.01M1312.9 2622h.01M1414.8 2607.4h.01M1434.6 2607.4h.01M1447.8 2602.1h.01M1475.6 2604.8h.01M1517.9 2607.4h.01M1527.2 2615.4h.01M1572.2 2598.2h.01M1578.8 2607.4h.01M1629 2608.8h.01M1677.2 2609.3h.01M1732.2 2609.3h.01M1711.1 2622.8h.01M1270.6 2647.1h.01M1383 2628.6h.01M1394.9 2622h.01M1433.3 2625.9h.01M1445.2 2628.6h.01M1429.3 2647.1h.01M1459.7 2639.2h.01M1469 2647.1h.01M1535.1 2644.5h.01M1574.8 2635.2h.01M1588 2636.5h.01M1601.3 2648.4h.01M1581.4 2653.7h.01M1639.6 2651.6h.01M1671.4 2636.5h.01M1499.4 2639.2h.01M1359.2 2660.3h.01M1349.9 2673.6h.01M1429.3 2674.9h.01M1463.7 2670.9h.01M1471.6 2660.3h.01M1490.2 2676.2h.01M1484.9 2689.4h.01M1503.4 2694.7h.01M1532.5 2689.4h.01M1547 2702.7h.01M1586.7 2676.2h.01M1573.5 2693.4h.01M1588 2708h.01M1651.5 2693.4h.01M1670.1 2698.7h.01M1289.1 2692.1h.01M1376.4 2684.1h.01M1401.5 2697.4h.01M1302.3 2678.9h.01M1266.6 2686.8h.01M1435.9 2697.4h.01M1269.3 2713.2h.01M1310.3 2715.9h.01M1330.1 2709.3h.01M1353.9 2718.5h.01M1392.3 2730.4h.01M1435.9 2713.2h.01M1458.4 2721.2h.01M1453.1 2727.8h.01M1500.7 2721.2h.01M1523.2 2725.2h.01M1573.5 2727.8h.01M1641 2727.8h.01M1297 2742.4h.01M1479.6 2741h.01M1496.8 2750.3h.01M1514 2752.9h.01M1535.1 2755.6h.01M1552.3 2747.6h.01M1578.8 2754.3h.01M1633 2756.9h.01M1540.4 2766.2h.01M1392.3 2762.2h.01M1422.7 2764.8h.01M1442.5 2772.8h.01M1469 2776.7h.01M1487.5 2786h.01M1508.7 2782h.01M1499.4 2797.9h.01M1352.6 2786h.01M1363.2 2792.6h.01M1373.8 2800.6h.01M1305 2780.7h.01M1310.3 2795.3h.01M1416.1 2788.6h.01M1424 2799.2h.01M1447.8 2792.6h.01M1667.4 2768.8h.01M1274.6 2768.8h.01M1351.3 2762.2h.01M1511.3 2804.5h.01M1402.9 2809.8h.01M1397.6 2829.7h.01M1381.7 2834.9h.01M1316.9 2812.5h.01M1320.8 2821.7h.01M1565.6 2819.1h.01M1535.1 2823h.01M1507.4 2829.7h.01M1439.9 2842.9h.01M1346 2845.5h.01M1293.1 2853.5h.01M1506 2848.2h.01M1593.3 2846.8h.01M1619.8 2853.5h.01M1312.9 2858.8h.01M1326.1 2866.7h.01M1344.7 2869.3h.01M1445.2 2866.7h.01M1463.7 2866.7h.01M1434.6 2874.6h.01M1499.4 2874.6h.01M1580.1 2875.9h.01M1265.3 2874.6h.01M1801 2534.1h.01M1798.9 2570.4h.01M1807.6 2612.7h.01M1095.4 2896.3h.01M1207.8 2883.1h.01M1234.3 2899h.01M1251.5 2888.4h.01M1175.3 2918.8h.01M1308.4 2920.1h.01M1284.6 2934.7h.01M1300.4 2943.9h.01M1313.7 2943.9h.01M1284.6 2951.9h.01M1356 2917.5h.01M1353.3 2896.3h.01M1366.6 2901.6h.01M1398.3 2901.6h.01M1408.9 2902.9h.01M1443.3 2909.5h.01M1453.9 2893.7h.01M1469.7 2899h.01M1485.6 2888.4h.01M1514.7 2918.8h.01M1411.5 2928.1h.01M1424.8 2930.7h.01M1403.6 2943.9h.01M1467.1 2930.7h.01M1448.6 2941.3h.01M1438 2951.9h.01M1393 2957.2h.01M1404.9 2970.4h.01M1140.4 2962.5h.01M1166.3 2963.8h.01M1234.3 2957.2h.01M1259.4 2961.1h.01M1242.2 2978.3h.01M1102 2976.2h.01M1203.9 2981h.01M1329.5 2969.1h.01M1365.2 2979.7h.01M1300.4 2996.8h.01M1334.8 3002.1h.01M1215.8 2996.8h.01M1385.1 3003.5h.01M1427.4 2999.5h.01M1492.2 3006.1h.01M1204.4 3015.4h.01M1398.8 3028.6h.01M1434 3033.9h.01M1445.9 3036.5h.01M1472.9 3045.8h.01M1239 3052.4h.01M1274 3055h.01M1292.5 3053.7h.01M1396.2 3104h.01M1580.8 2885.7h.01M1575.6 2912.2h.01M1591.4 2912.2h.01M1469.8 2184.9h.01M1205.8 1701.1h.01M1490.7 1805.3h.01M1553.7 1817.2h.01M1522.5 1842.4h.01M1204.5 1886.8h.01M1215.1 1890.8h.01M1373.8 1881.5h.01M1323.5 1901.3h.01M1320.9 1917.2h.01M1316.4 1938.4h.01M1535.2 1913.2h.01M1533.9 1937.1h.01M1393.1 1946.3h.01M1391 1968.8h.01M1537.8 1972.8h.01M1246.8 1976.2h.01M1197.4 1982h.01M1313.8 1986h.01M1399.5 1996.6h.01M1558.5 1997.9h.01M1519.3 2009h.01M1265.9 2040.8h.01M1439.9 2048.2h.01M1426.7 2057.4h.01M1327.5 2056.1h.01M1176.7 2066.7h.01M1549.7 2072h.01M1332.8 2072h.01M1412.2 2075.9h.01M1714.3 1945h.01M1799.7 2072h.01M1035.1 2093.7h.01M1168.7 2085.7h.01M1209.7 2095h.01M1232.2 2095h.01M1061.6 2112.2h.01M1069.5 2124.1h.01M1178 2128.1h.01M1204.4 2130.7h.01M1103.9 2146.6h.01M1117.1 2140h.01M1130.4 2140h.01M1237.5 2151.9h.01M1175.3 2173h.01M1203.1 2176.2h.01M1141 2184.9h.01M1079.6 2191.6h.01M1125.1 2207.4h.01M1076.1 2223.3h.01M1096 2232.6h.01M1113.2 2233.9h.01M1185.1 2220.7h.01M968.5 2241.8h.01M1142.8 2243.1h.01M1211.6 2255.8h.01M1245.4 2244.5h.01M1257.4 2255h.01M877.2 2290.8h.01M1078.8 2276.2h.01M1188.6 2274.9h.01M1205.8 2289.4h.01M1061.6 2290.8h.01M1041.7 2293.4h.01M1111.3 2298.7h.01M963.7 2308h.01M1200.5 2308h.01M1171.9 2320.4h.01M1110.5 2325.2h.01M1248.1 2318.5h.01M1014 2349h.01M981.7 2356.9h.01M1144.9 2349h.01M1036.5 2363.5h.01M1051 2372.8h.01M1118.5 2363.5h.01M1146.2 2376.7h.01M1164.8 2376.7h.01M1197.8 2378.1h.01M924 2379.4h.01M914.8 2390h.01M1154.2 2391.3h.01M1078.3 2397.9h.01M966.3 2404.5h.01M951.8 2412.5h.01M968.5 2424.4h.01M897.6 2415.1h.01M920.1 2432.3h.01M1007.9 2420.4h.01M1176.1 2415.1h.01M1150.2 2437.6h.01M1070.8 2449.5h.01M1109.2 2454.8h.01M1168.7 2450.8h.01M957.1 2469.3h.01M1352.6 2095h.01M1324.8 2106.4h.01M1412.1 2083.1h.01M1406.8 2101.6h.01M1407.6 2128.1h.01M1269.3 2124.1h.01M1278 2150.6h.01M1320.3 2174.4h.01M1396.2 2169.9h.01M1308.9 2198.2h.01M1357.4 2195.5h.01M1397 2222h.01M1394.9 2250.3h.01M1523.2 2206.1h.01M1483 2232h.01M1610.5 2153.2h.01M1683.3 2122.8h.01M1666.1 2203.5h.01M1731.7 2200.8h.01M1592.5 2248.4h.01M1296.5 2265.6h.01M1336.2 2275.7h.01M1338.8 2300h.01M1463.7 2288.6h.01M1476.9 2288.1h.01M1495.4 2281.5h.01M1553.7 2294.2h.01M1383.8 2298.7h.01M1310.3 2313.2h.01M1301 2329.1h.01M1307.6 2339.7h.01M1719 2286.8h.01M1570.8 2350.3h.01M1572.2 2370.1h.01M1644.1 2373.6h.01M1384.3 2380.7h.01M1286.5 2403.2h.01M1279.8 2420.4h.01M1491.5 2394.7h.01M1496.8 2416.4h.01M1627.7 2407.2h.01M1382.2 2417.7h.01M1408.1 2417.7h.01M1439.4 2425.7h.01M1409.5 2445.5h.01M1430.6 2449.5h.01M1474.3 2461.4h.01M1441.2 2472h.01M1549.7 2080.4h.01M1911.6 2281.5h.01M914.2 2494.2h.01M867.9 2510.9h.01M889.6 2533.4h.01M984.9 2505.6h.01M1002.1 2513.5h.01M1017.9 2484.4h.01M955.8 2476.5h.01M1051 2543.9h.01M1177.5 2493.7h.01M1220.3 2526.7h.01M1134.3 2545.3h.01M1162.9 2549.8h.01M1207.1 2543.4h.01M974.3 2581h.01M1220.3 2579.7h.01M1021.1 2600.8h.01M924 2628.1h.01M1201.3 2634.4h.01M1184.6 2684.1h.01M1094.7 2748.2h.01M993.3 2782h.01M1183.3 2779.4h.01M1096 2806.6h.01M1177.5 2834.4h.01M1258.7 2763.5h.01M1441.2 2479.1h.01M1484.9 2489.7h.01M1540.4 2495h.01M1565.6 2489.7h.01M1627.2 2506.4h.01M1457.1 2505.6h.01M1439.4 2516.2h.01M1389.6 2525.4h.01M1551 2541.3h.01M1332 2547.9h.01M1437.2 2546.6h.01M1426.7 2557.2h.01M1355.8 2569.1h.01M1460.3 2578.3h.01M1395.7 2600.8h.01M1392.3 2610.1h.01M1545.7 2622h.01M1363.2 2633.9h.01M1373.8 2647.1h.01M1385.7 2657.7h.01M1440.7 2664.8h.01M1323.5 2667h.01M1307.6 2674.9h.01M1330.1 2689.4h.01M1374.3 2717.2h.01M1297.8 2734.4h.01M1269.3 2763.5h.01M1324.8 2771.5h.01M1380.9 2775.4h.01M1630.4 2786h.01M1282.5 2805h.01M1346.8 2808.5h.01M1566.3 2803.2h.01M1437.8 2826.5h.01M1288.6 2833.6h.01M1359.2 2874.6h.01M1303.1 2895h.01M1322.9 2893.7h.01M1359.9 2881.8h.01M1109.9 2918.8h.01M1270 2969.1h.01M1213.1 2988.9h.01M1338.8 2986.8h.01M1281.9 3045.8h.01M718.4 2337.9h.01M751 2375.4h.01M704.4 2399.8h.01M1078.3 1720.1h.01M1367.2 1937.9h.01M1481.7 1965.6h.01M1178.6 1977.5h.01M1324.9 2012.5h.01M1158.2 2049.5h.01M800.2 2229.1h.01M779 2352.4h.01M1029.8 2087.9h.01M1029.8 2117h.01M976.4 2170.4h.01M1151 2118.3h.01M1196.5 2118.8h.01M1189.9 2144.5h.01M1158.1 2161.9h.01M1109.7 2216.7h.01M1077.5 2241.3h.01M1096 2247.1h.01M1141 2259.8h.01M1012.6 2266.2h.01M1043.1 2274.9h.01M1025.9 2282.8h.01M990.2 2279.4h.01M1084.1 2282.8h.01M1170.8 2276.2h.01M984.3 2308.5h.01M875.6 2325.7h.01M1088 2323h.01M1201.3 2331.8h.01M847.3 2357.4h.01M1042.5 2359.5h.01M1100.7 2374.1h.01M1178.8 2386h.01M1241.5 2364h.01M1254.2 2339.7h.01M906.3 2412.5h.01M853.1 2418.5h.01M1029.8 2408.5h.01M1040.4 2413.8h.01M1221.6 2417.2h.01M1221.6 2437.6h.01M862.6 2446.1h.01M1020.6 2460.1h.01M1045.7 2460.1h.01M975.6 2470.7h.01M1151.5 2458.8h.01M1254.7 2458.8h.01M1342.5 2151.3h.01M1275.3 2179.7h.01M1442.5 2332.3h.01M1323 2421.2h.01M1633.5 2416.4h.01M1283.3 2461.4h.01M845.2 2487.1h.01M822.2 2530.7h.01M788.6 2579.1h.01M898.1 2505.6h.01M906.3 2577.8h.01M973 2571.7h.01M1055.5 2531.5h.01M1078.3 2553.2h.01M1098.1 2571.2h.01M1136.5 2557.2h.01M1164.8 2575.7h.01M1205.8 2569.1h.01M1221.6 2567.7h.01M1205.8 2496.3h.01M1248.1 2487.1h.01M982.2 2633.4h.01M1024.6 2645h.01M1048.4 2630.4h.01M1134.3 2629.4h.01M871.6 2684.7h.01M974.3 2477.8h.01M1221.6 2874.6h.01M1378.5 2497.6h.01M1503.4 2645h.01M1338.6 2678.3h.01M1354.4 2749h.01M1291.2 2764.8h.01M1221.6 2881.8h.01M1125.8 2925.9h.01M1137.7 2971.7h.01M1287.2 2979.7h.01M1184.8 3054.5h.01M1408.8 2742.2h.01M1567.9 2043.6h.01M885 2502.2h.01M1550.2 2570.8h.01M1046.2 2451.2h.01M1105.6 2571.8h.01M1285 2468.7h.01M1481.3 2709h.01M1286.6 2636.2h.01M1502.6 1999.6h.01M1192.4 2110.6h.01M1498 1864.1h.01M1399.7 1919.3h.01M1164.7 2142.5h.01M1093.6 2373.8h.01M1464.6 2842.7h.01M1071.8 2253.7h.01M1574.4 2462.4h.01M1199 2237.2h.01M1280.7 2663.3h.01M1645.6 2418.5h.01M1165.8 2669.6h.01M1262 1959.8h.01M1454.5 2749.4h.01M1167.6 2268.4h.01M1549.8 2676.1h.01M1797.3 2362.3h.01M1577.6 2117.6h.01M1277.6 2079.3h.01M1744.4 2244.7h.01M1392.5 2030.7h.01M1421 2534.5h.01M1238.1 2790.3h.01M1470.1 2260.6h.01M1649.9 2350.1h.01M1560.8 2218.5h.01M1613 2619.9h.01M1414.8 2250.1h.01M1246 2359.8h.01M1002 2554.7h.01M1146.2 2574.5h.01M1217.9 2796.5h.01M1361 2118.3h.01M1256.3 2573.9h.01M1230.2 2029.2h.01M1404.5 2646.7h.01M1481.7 2822h.01M1370 2503.3h.01M1247 2612.3h.01M1453.8 2101.7h.01M1207.5 2483.6h.01M1327.7 2645.6h.01M1421.4 2855h.01M1584.3 2514.5h.01M1301.3 2386.9h.01M1369.2 2851.2h.01M1356.8 2072h.01M1639.4 2589.5h.01M1190.8 2946.5h.01M1377.6 2542.6h.01M960.9 2444.1h.01M1478.9 2510.1h.01M1569.7 2077h.01M1431.7 2734.2h.01M1351.5 2355.3h.01M1773.2 2381.5h.01M1119.5 2871.9h.01M1429 2975.3h.01M1390.2 2791.7h.01M1421.1 2210.8h.01M1344.8 2948.8h.01M1377.4 2918.2h.01M1303.2 2964.3h.01M1560.6 2770.9h.01M1608.5 2597.1h.01M1343.5 2629.7h.01M1496.1 2542.8h.01M1351 2156h.01M1377.4 2196.2h.01M1312.9 2074.2h.01M1110.6 2620.5h.01M1237.9 2564.5h.01M1510.1 2670.8h.01M1668.8 2498.2h.01M1375 1952h.01M1254.1 2530.2h.01M1209.9 2911.1h.01M1505.1 2525.1h.01M1183.7 2869.6h.01M1332.8 2419.2h.01M1583.6 2164.4h.01M1160.5 2898.4h.01M1145.4 2668.7h.01M1276.3 2334.7h.01M1544.2 2797.6h.01M1000.9 2295.6h.01M1484.9 1979.2h.01M1286 2885.5h.01M1396.5 1878.3h.01M1082.1 2690.4h.01M1468.6 2412.3h.01M1054.7 2522.9h.01M1213.7 2965.1h.01M1462.8 2538.3h.01M1046.9 2606.4h.01M1493 2566.6h.01M1152.3 2472h.01M1421.6 2315.1h.01M1106 2389.1h.01M1135.7 2525.3h.01M1317.4 2006.7h.01M1256.5 2795.8h.01M1610 2462.4h.01M1756.5 2229.5h.01M1397.1 2366.6h.01M1126.6 2490.9h.01M1045.9 2274.9h.01M1224.5 2414.8h.01M1730.2 2268.8h.01M1119.9 2251.9h.01M1400.9 2862.8h.01M1256.9 2082.2h.01M1384.5 2981.8h.01M1535.1 2591.4h.01M1334.9 2751.5h.01M1624.9 2190.5h.01M1205.1 2732.7h.01M1128.3 2567.3h.01M1368.3 2214.2h.01M1342.1 1972.8h.01M1312.6 2559.3h.01M1636.6 2335.7h.01M1463 2691h.01M1655.9 2262.8h.01M1303.7 2517.2h.01M1240 2868.1h.01M1191.4 2581.1h.01M1760.5 2258.9h.01M1034.2 2622h.01M1570 2565.7h.01M1695.6 2245.9h.01M1372.9 2750.2h.01M1292.7 2494h.01M1713.2 2495.3h.01M1160.1 2635.9h.01M1481.4 2586.5h.01M1189.8 2158h.01M1120.3 2740.3h.01M991.2 2622.3h.01M1525.2 2875.2h.01M1269 2855.1h.01M1191.7 2796.9h.01M1359.9 1941.2h.01M1447.8 3010.8h.01M1189.6 2535.8h.01M1767.1 2202.8h.01M1237.7 2814.1h.01M1296.7 2653.8h.01M1674.2 2532.5h.01M1485.4 2845.9h.01M1462 2338.9h.01M969.1 2562.7h.01M1414.5 2483.5h.01M1287.7 2172h.01M1545.5 2722.8h.01M959 2386.5h.01M1350.9 2518.7h.01M1268.4 2991.8h.01M1629 2531.5h.01M1296.9 2762.4h.01M1021.3 2509.8h.01M1414.6 2719.5h.01M1071 2543.5h.01M1657.4 2523h.01M1293 1939.5h.01M1240.1 2750h.01M1305.4 2467.8h.01M1296.7 2244.6h.01M1686.5 2181.1h.01M925.3 2413.9h.01M1543.2 2117.5h.01M1108.5 2478.6h.01M1614.4 2206.7h.01M1552.6 2327.8h.01M1404.4 2997.7h.01M1406.3 2671.1h.01M1017.2 2462.4h.01M1324.4 2735.5h.01M1189.4 2659.5h.01M1372.9 2100.3h.01M1364.5 2826.9h.01M1508.7 2590.7h.01M901.7 2435.9h.01M1279 2587.5h.01M1396.6 2143.3h.01M1152.9 2919.6h.01M1374.9 2602.6h.01M1223.3 2686.1h.01M1711.3 2261h.01M1196.9 2852.4h.01M1460.5 2038.3h.01M1654.1 2605.5h.01M1392.2 2879.8h.01M1261.8 3015.5h.01M975 2274.6h.01M1521.3 2539.9h.01M1023.4 2406.8h.01M1174.3 2815.8h.01M1556.6 2655.7h.01M1638.1 2437.1h.01M1697.4 2606h.01M1193.8 2356.8h.01M1775.8 2339h.01M968.7 2522.2h.01M1141.8 2595.7h.01M1413.2 2514.4h.01M1632.8 2309.4h.01M1209.5 2022.2h.01M1174.2 2293.1h.01M1734.1 2491.3h.01M919.3 2451.5h.01M1273.5 2740h.01M913.7 2538.7h.01M1337.5 2212h.01M1141.2 2735.9h.01M1414.2 2629.8h.01M1302.6 2418.5h.01M1319.4 2581h.01M1381.7 2130.2h.01M1625.2 2636.4h.01M1548.6 2458.6h.01M1166 2796.6h.01M1656.9 2286.7h.01M1505.2 2435h.01M1198.3 2067.5h.01M1056.8 2203h.01M1280 3026.4h.01M1440.2 2581.8h.01M1677.7 2335h.01M1462.4 1868.6h.01M1081.5 2559.7h.01M1361.9 2699.3h.01M1261.4 2101h.01M1617 2423.8h.01M872.7 2452.2h.01M1639.3 2205.7h.01M1513.5 1941.8h.01M1125 2586.6h.01M1100.5 2549.4h.01M1002.1 2371.4h.01M1266.2 2226.4h.01M1253.6 2498.1h.01M1263.2 2167.5h.01M1415.8 2877.7h.01M1584.6 2487.8h.01M1488 2621.1h.01M1564.7 2710h.01M1204.4 2691.7h.01M1472.7 2799.1h.01M1688 2290.6h.01M1377.1 2357.2h.01M1528.7 2669.3h.01M1597.7 2339h.01M1365.2 2731.6h.01M1294.7 2812.1h.01M1342.7 2738.2h.01M1347 2691.1h.01M1603 2325.9h.01M1651.4 2399.3h.01M1516.4 2682.3h.01M1556.9 2784h.01M1396.5 2710.1h.01M1423.8 2819h.01M1368 2588.8h.01M1296.4 2797.5h.01M1373.5 1898.3h.01M1384.3 2896.7h.01M1516.3 2580.3h.01M1616.2 2394.6h.01M1139 2364.7h.01M1484.2 2758.6h.01M1392.5 1902.8h.01M1411.2 2819.1h.01M1242.8 2064.5h.01M1416.1 2164.6h.01M1581.1 2358.4h.01M1550.2 2601.9h.01M1526 2797.8h.01M1166.8 2023.5h.01M1335.1 1867.1h.01M1354.5 1889.2h.01M1339.6 1930.1h.01M1288 2609.7h.01M1062.9 2395.5h.01M1015 2317.3h.01M1376.6 2703.7h.01M1311.6 2634.9h.01M1299 2706.6h.01M1608 2301.2h.01M1390.8 2233.9h.01M1566 2622.4h.01M1443.9 2758.3h.01M1621.5 2738.5h.01M1199.3 2222h.01M1526 2766.8h.01M1466 2616.9h.01M1349.4 2556h.01M1482.3 2651.3h.01M1033.1 2349.6h.01M1527.4 2708.7h.01M1251.1 2042.7h.01M1046.8 2389.7h.01M1528.2 2526.1h.01M1363.7 2674.7h.01M1540.1 2322.4h.01M1320.1 2758.7h.01M1471.7 2631.6h.01M1331.9 2622.3h.01M1563.8 2414.8h.01M1509.8 2126.2h.01M1238 2209.9h.01M1299.6 2087.6h.01M1654 2364.6h.01M1515.5 2625.5h.01M1411.5 2770.4h.01M1405.1 2540.9h.01M1221.9 2202.3h.01M1475 2834.6h.01M1560.4 2528.9h.01M1412.7 1915.4h.01M1480.8 2526.5h.01M1230.4 2374.4h.01M1501.8 2762.5h.01M1406.6 2590.3h.01M1562.5 2454.8h.01M1587.4 2471.9h.01M1530.4 2577.9h.01M1585.7 2531.4h.01M1581.5 2378.8h.01M1559.4 2357.1h.01M1410.4 2757.2h.01M1298 2296.5h.01M1306.2 1870.8h.01M1472.4 2119.9h.01M1593.2 2543.8h.01M1641.2 2388.2h.01M1343.6 2492.1h.01M1602 2373.4h.01M1542.4 2739.3h.01M1594.9 2456.9h.01M1531.3 2435h.01M1339.4 2769.7h.01M1310.9 2702.8h.01M1284.7 2299h.01M1448.8 2702.2h.01M1370.8 2527.5h.01M1327.5 1882.2h.01M1467.6 2882.3h.01M1244.6 2028h.01M1447.5 2645.7h.01M1532.4 2382.8h.01M1481.2 2728.6h.01M1256.4 2744.6h.01M1503 2618.5h.01M1330.3 2949.3h.01M1322.6 2613.9h.01M1599.5 2440.5h.01M1568.1 2427h.01M1589.3 2432h.01M1389.6 2813.7h.01M1016.8 2332.5h.01M1323.3 2794.8h.01M1377.9 2732.1h.01M1470.1 2139.2h.01M1538 2469h.01M1181.6 2233.7h.01M1377.4 2787.6h.01M1040.8 2260.8h.01M1349.4 1986.9h.01M1504.4 2560.7h.01M1266.4 2410.8h.01M1290 2072.7h.01M1582 2325.9h.01M1089.5 2265.8h.01M1428 2073.9h.01M1568.3 2662.8h.01M1202.2 1913.1h.01M1207.9 1933.8h.01M1323.3 2345.3h.01M1623.3 2324.7h.01M1419.3 2703.6h.01M1492.5 1938.7h.01M1563.3 2640.4h.01M1174.4 2401.2h.01M1283.7 2819.5h.01M1509.4 2511.5h.01M1345.6 2707.8h.01M1540.3 2366.3h.01M1442.1 2569.2h.01M1466.4 2758.6h.01M1543.3 2658.4h.01M1207.2 2205.1h.01M1369.8 2463.6h.01M1298 2588.3h.01M1437 1882.1h.01M1516 2738.2h.01M1448.5 2120.4h.01M1274.1 2291.3h.01M1559.4 2693.1h.01M1446.8 2686.7h.01M1426 2748.1h.01M1366.4 1919.5h.01M1522.3 2839.6h.01M1005.4 2308.6h.01M1510.3 2546.1h.01M1444.5 2737h.01M1649.7 2337.2h.01M1621.1 2765.3h.01M1523.3 2652.9h.01M1226.6 2217.8h.01M1461.7 2518.6h.01M1429.8 2786h.01M1446.2 2536.7h.01M1542.8 2512.6h.01M1535.9 2554.2h.01M1621.2 2303.8h.01M1492.4 2660.8h.01M1340 2608.7h.01M1071 2352.9h.01M1294.1 2284.3h.01M1353.9 1927.3h.01M1490.5 2601.2h.01M1460.4 2830h.01M1437.3 2801h.01M1345.9 2464.6h.01M1472.9 2575.8h.01M1483.2 2549.4h.01M1578.7 2622.8h.01M1329.7 2723.2h.01M1320.1 2680.8h.01M1306.6 2662.1h.01M1471.9 2718.2h.01M1390.3 2681.6h.01M1333.1 1913.4h.01M1119.9 2126.2h.01M1568.1 2298.3h.01M1060.3 2258.8h.01M1549.6 2636.5h.01M1634.6 2571.7h.01M1162 2036.6h.01M1388.3 1890.6h.01M1021.7 2359.1h.01M1055 2326.7h.01M1362.3 2774.1h.01M1629.8 2622.9h.01M1362.1 2553.3h.01M1294.2 2014.5h.01M1203.3 2156.2h.01M1347.4 2016.7h.01M1271.5 2064.7h.01M1508.4 2109.1h.01M1460.1 1967.2h.01M1403.4 1954.1h.01M1509 2657.4h.01M1605.1 2560.8h.01M1622 2800.9h.01M1227.6 2064.9h.01M1404.1 2793.9h.01M1455.4 2657.6h.01M1424 2471.1h.01M1025.6 2195.3h.01M1310.8 2746.6h.01M1065.5 2272.8h.01M1588.4 2807.3h.01M1620.6 2718.2h.01M1329.1 2038.5h.01M1163.6 2220.9h.01M1381.3 1939.7h.01M1606.8 2408.8h.01M1209.3 2412.9h.01M1404.9 2473.1h.01M1655.3 2429.9h.01M1297.5 2051.7h.01M1538.3 2605.9h.01M1664.7 2399.6h.01M1422.9 2594.3h.01M1403.5 2528h.01M1557.4 2729.1h.01M1189 2249.3h.01M1513.7 2406.4h.01M1039.3 2378.1h.01M1253.3 2130.3h.01M1378.2 2616h.01M1294.5 2355h.01M1039.8 2337h.01M1454.9 2558h.01M1279.6 2091.6h.01M1327.1 2560.8h.01M1587 2821.6h.01M1319 2330.3h.01M1326.7 1972.9h.01M1349 2931.1h.01M1609.1 2583.9h.01M1314.6 2651.7h.01M1134.3 2291.5h.01M1402.3 2723h.01M1186.5 2287.9h.01" stroke="#A2A2A2" stroke-width="27.6" stroke-linecap="round" fill="none"/>
<path d="M1183.6 1779.7h.01M1229.6 1867h.01M1174.1 1930.4h.01M1162.2 1978.1h.01M1132.3 2025.7h.01M1421.4 2048.2h.01M996.2 2136.5h.01M988.8 2150.6h.01M884.3 2208.2h.01M910 2268.8h.01M950.5 2239.2h.01M1044.4 2233.9h.01M1008.7 2284.1h.01M843.3 2412.5h.01M963.7 2448.2h.01M922.7 2313.2h.01M1236.2 2390h.01M1441.2 2137.3h.01M1342 2239.2h.01M1515.3 2382h.01M1416.1 2260.3h.01M1802.3 2387.3h.01M842.8 2521.5h.01M875.6 2588.9h.01M1036.5 2677.5h.01M986.2 2705.3h.01M1084.9 2837.6h.01M1107.4 2847.6h.01M897.6 2488.4h.01M1196.5 2864h.01M1102.5 2944.5h.01M1180.6 2991h.01M1256.2 2998.2h.01M1236.1 3019.3h.01M1291 1755.3h.01M1330.2 1795.5h.01M1395 1781h.01M1469 1792.9h.01M1484.9 1784.9h.01M1573.5 1825.4h.01M1425.4 1836h.01M1355.3 1837.9h.01M1360.6 1844.5h.01M1302.4 1848.4h.01M1319.6 1860.3h.01M1430.7 1864.3h.01M1575.4 1863.8h.01M1248.1 1889.4h.01M1273.3 1901.3h.01M1213.8 1905.3h.01M1340.7 1892.1h.01M1454.5 1889.4h.01M1406.9 1901.3h.01M1470.4 1908h.01M1491.5 1922.5h.01M1530.7 1901.3h.01M1303.7 1913.2h.01M1244.2 1922.5h.01M1272 1939.7h.01M1242.9 1942.4h.01M1338.1 1950.3h.01M1441.3 1929.1h.01M1496.8 1958.2h.01M1446.6 1955.6h.01M1211.1 1950.3h.01M1285.2 1966.2h.01M1507.4 1976.7h.01M1295.8 1968.8h.01M1465.1 1979.4h.01M1172.8 2012.5h.01M1192.6 2008.5h.01M1227 2005.8h.01M1256.1 2021.7h.01M1289.2 1999.2h.01M1340.7 1997.9h.01M1376.5 2020.4h.01M1414.8 2019.1h.01M1470.4 2000.6h.01M1467.7 2019.1h.01M1496.8 2021.7h.01M1541.8 2027h.01M1570.9 2019.1h.01M1594.7 2019.1h.01M1172.8 2045.5h.01M1197.9 2045.5h.01M1216.4 2056.1h.01M1285.2 2058.8h.01M1346 2029.7h.01M1375.1 2058.8h.01M1483.6 2045.5h.01M1528.6 2048.2h.01M1597.4 2053.5h.01M1589.4 2066.7h.01M1523.3 2066.7h.01M1441.3 2029.7h.01M1491.5 2061.4h.01M1703.2 2060.1h.01M1004.7 2154.5h.01M1035.1 2179.7h.01M1037.8 2198.2h.01M969 2202.1h.01M1008.7 2218h.01M982.2 2222h.01M912.6 2231.2h.01M1027.2 2249.8h.01M1011.3 2260.3h.01M926.7 2292.1h.01M945.2 2300h.01M873.8 2350.3h.01M932 2331.8h.01M971.6 2339.7h.01M942.5 2358.2h.01M939.9 2384.7h.01M1048.4 2315.9h.01M1072.2 2315.9h.01M1156.8 2305.3h.01M1090.7 2352.9h.01M1072.2 2368.8h.01M1111.9 2408.5h.01M887 2415.1h.01M831.4 2452.1h.01M892.3 2453.5h.01M1096 2419.1h.01M1196.5 2419.1h.01M1125.1 2427h.01M990.2 2442.9h.01M1193.9 2448.2h.01M1225.6 2461.4h.01M1072.2 2091h.01M1088 2125.4h.01M1077.5 2151.9h.01M1111.9 2112.2h.01M1103.9 2170.4h.01M1114.5 2188.9h.01M1151.5 2225.9h.01M1172.7 2247.1h.01M1193.9 2196.8h.01M1225.6 2188.9h.01M1254.7 2143.9h.01M1254.7 2210.1h.01M1167.4 2233.9h.01M1103.9 2268.3h.01M1125.1 2278.9h.01M1154.2 2297.4h.01M1225.6 2278.9h.01M1254.7 2273.6h.01M1090.7 2297.4h.01M1053.7 2310.6h.01M1072.2 2331.8h.01M1085.4 2342.4h.01M1217.7 2308h.01M1225.6 2331.8h.01M1217.7 2355.6h.01M1207.1 2395.3h.01M1228.3 2387.3h.01M1193.9 2403.2h.01M1178 2434.9h.01M1236.2 2448.2h.01M1130.4 2469.3h.01M1172.7 2472h.01M1225.6 2474.6h.01M1658.1 2097.6h.01M1697.8 2116.2h.01M1757.4 2151.9h.01M1703.1 2075.2h.01M1524.6 2099h.01M1551 2093.7h.01M1593.3 2085.7h.01M1432 2114.8h.01M1461.1 2125.4h.01M1590.7 2133.4h.01M1627.7 2130.7h.01M1638.3 2146.6h.01M1564.2 2157.2h.01M1598.6 2183.6h.01M1552.3 2194.2h.01M1646.2 2183.6h.01M1659.5 2178.3h.01M1492.8 2212.7h.01M1585.4 2212.7h.01M1627.7 2223.3h.01M1349.9 2225.9h.01M1537.8 2233.9h.01M1514 2236.5h.01M1566.9 2247.1h.01M1614.5 2249.8h.01M1667.4 2247.1h.01M1688.6 2268.3h.01M1275.9 2204.8h.01M1371.1 2178.3h.01M1339.4 2188.9h.01M1408.1 2188.9h.01M1320.8 2134.7h.01M1373.8 2268.3h.01M1402.9 2276.2h.01M1432 2278.9h.01M1498.1 2257.7h.01M1524.6 2257.7h.01M1545.7 2260.3h.01M1572.2 2268.3h.01M1638.3 2278.9h.01M1749.4 2289.4h.01M1754.7 2310.6h.01M1275.9 2247.1h.01M1267.9 2302.7h.01M1365.8 2286.8h.01M1461.1 2315.9h.01M1529.8 2308h.01M1564.2 2310.6h.01M1630.4 2289.4h.01M1738.8 2323.8h.01M1371.1 2337.1h.01M1392.3 2337.1h.01M1508.7 2339.7h.01M1524.6 2329.1h.01M1611.9 2339.7h.01M1736.2 2347.6h.01M1417.4 2363.5h.01M1326.1 2371.5h.01M1297 2368.8h.01M1445.2 2374.1h.01M1461.1 2368.8h.01M1363.2 2395.3h.01M1424 2390h.01M1450.5 2392.6h.01M1267.9 2390h.01M1529.8 2397.9h.01M1664.8 2416.4h.01M1693.9 2416.4h.01M1736.2 2421.7h.01M1352.6 2419.1h.01M1551 2437.6h.01M1299.7 2442.9h.01M1527.2 2448.2h.01M1638.3 2458.8h.01M1680.6 2466.7h.01M1725.6 2469.3h.01M1447.8 2458.8h.01M1822.2 2133.4h.01M1767.9 2154.5h.01M1773.2 2162.5h.01M1794.4 2183.6h.01M1869.8 2214.6h.01M1770.6 2289.4h.01M1794.4 2318.5h.01M1774.6 2358.2h.01M1775.9 2405.8h.01M1799.7 2419.1h.01M1767.9 2429.7h.01M783.3 2507.4h.01M955.8 2504.3h.01M984.9 2541.3h.01M918.7 2562.5h.01M963.7 2612.7h.01M942.5 2631.2h.01M987.5 2644.5h.01M1011.3 2620.7h.01M1035.1 2647.1h.01M1058.9 2625.9h.01M1020.6 2583.6h.01M1101.3 2594.2h.01M1126.4 2610.1h.01M1102.6 2640.5h.01M1178 2618h.01M1141 2647.1h.01M1172.7 2649.8h.01M1058.9 2689.4h.01M1021.9 2711.9h.01M1029.3 2747.6h.01M1085.4 2725.2h.01M1093.3 2715.9h.01M1068.2 2784.7h.01M1000.7 2811.1h.01M1058.9 2836.3h.01M1076.1 2860.1h.01M1151.5 2864h.01M1215 2821.7h.01M1228.3 2853.5h.01M1215 2668.3h.01M1241.5 2636.5h.01M1223 2742.4h.01M1236.2 2768.8h.01M1254.7 2731.8h.01M1209.7 2768.8h.01M1156.8 2771.5h.01M1109.2 2768.8h.01M1204.4 2816.4h.01M1167.4 2858.8h.01M1077.5 2509.5h.01M1103.9 2530.7h.01M1066.9 2504.3h.01M1257.4 2596.8h.01M1230.9 2596.8h.01M1193.9 2602.1h.01M1209.7 2641.8h.01M1143.6 2689.4h.01M1196.5 2710.6h.01M1051 2565.1h.01M950.5 2543.9h.01M929.3 2493.7h.01M1757.4 2499h.01M1733.5 2536h.01M1709.7 2543.9h.01M1678 2581h.01M1651.5 2570.4h.01M1656.8 2543.9h.01M1760 2663h.01M1709.7 2663h.01M1688.6 2652.4h.01M1672.7 2668.3h.01M1725.6 2686.8h.01M1704.4 2678.9h.01M1712.4 2734.4h.01M1697.8 2762.2h.01M1609.2 2710.6h.01M1601.3 2721.2h.01M1611.9 2752.9h.01M1603.9 2779.4h.01M1596 2795.3h.01M1603.9 2819.1h.01M1635.7 2829.7h.01M1729.6 2813.8h.01M1524.6 2856.1h.01M1545.7 2819.1h.01M1769.3 2508.2h.01M1162.9 2879.1h.01M1147 2881.8h.01M1189.3 2896.3h.01M1258.1 2912.2h.01M1165.5 2943.9h.01M1209.2 2933.4h.01M1221.1 2946.6h.01M1250.2 2930.7h.01M1332.2 2930.7h.01M1337.5 2914.8h.01M1374.5 2888.4h.01M1311 2885.7h.01M1432.7 2885.7h.01M1509.4 2891h.01M1247.5 2988.9h.01M1287.2 3007.4h.01M1312.3 3018h.01M1365.2 3024.6h.01M1350.7 2973h.01M1459.2 2973h.01M1493.5 3067h.01M1356 3111.4h.01M1405.7 3134.4h.01M1427.4 3018h.01M1377.1 2941.3h.01M1274 2906.9h.01M1594.1 2889.7h.01M1567.6 2924.1h.01M1671.3 3016.2h.01M1409.5 1754.5h.01M1424.1 1884.9h.01M1380.4 1919.1h.01M1416.1 1929.1h.01M1461.9 1921.7h.01M1199.2 1954.8h.01M1421.4 1952.1h.01M1469 1954.8h.01M1318.3 1952.9h.01M1227 1974.1h.01M1426.7 1978.1h.01M1256.1 1987.3h.01M1279.4 1986h.01M1328.8 1986h.01M1443.1 2006.6h.01M1402.9 2012.5h.01M1545.8 1996.6h.01M1330.2 2023h.01M1372 2037.6h.01M1315.6 2041.6h.01M1237 2052.9h.01M1256.1 2061.4h.01M1511.4 2040.8h.01M1459.8 2068h.01M1511.9 2068h.01M1339.4 2058.8h.01M1220.4 2075.9h.01M1380.4 2075.9h.01M1323.5 1923.8h.01M1077.5 2083.1h.01M1196.5 2091h.01M1219 2109.5h.01M1236.2 2112.2h.01M1130.4 2112.2h.01M1221.6 2141.3h.01M1143.6 2157.2h.01M1217.7 2162.5h.01M1236.2 2165.1h.01M1069 2177h.01M1159.5 2179.7h.01M1240.2 2193.4h.01M1088 2202.1h.01M1213.7 2222h.01M1240.2 2230.7h.01M1054.2 2241.8h.01M1221.6 2247.1h.01M1252.1 2294.7h.01M1134.3 2306.6h.01M1185.9 2310.6h.01M1024.6 2300h.01M1031.2 2323.8h.01M958.4 2333.1h.01M1062.9 2341h.01M1119.8 2338.4h.01M1188.6 2338.4h.01M1246.8 2341h.01M1164.8 2354.3h.01M861.9 2354.3h.01M1006 2352.9h.01M965 2368.8h.01M1021.9 2378.1h.01M988.8 2387.3h.01M995.4 2399.2h.01M1073.5 2413.8h.01M1252.1 2379.4h.01M1252.1 2413.8h.01M839.4 2432.3h.01M1016.6 2433.6h.01M1103.9 2432.3h.01M1154.2 2427h.01M1254.7 2432.3h.01M1172.7 2446.8h.01M1117.1 2448.2h.01M941.2 2462.7h.01M974.3 2462.7h.01M908.1 2472h.01M864.5 2470.7h.01M1085.4 2465.4h.01M1069.5 2466.7h.01M1151.5 2448.2h.01M1193.9 2469.3h.01M998.1 2473.3h.01M1217.7 2433.6h.01M1254.7 2472h.01M1381.7 2083.1h.01M1435.9 2088.4h.01M1463.7 2085.7h.01M1496.8 2088.4h.01M1510 2077.8h.01M1289.1 2101.6h.01M1299.7 2101.6h.01M1310.3 2109.5h.01M1391 2112.2h.01M1491.5 2104.3h.01M1498.1 2117.5h.01M1581.4 2097.6h.01M1611.9 2113.5h.01M1291.7 2129.4h.01M1341.5 2134.7h.01M1525.9 2132h.01M1558.9 2141.3h.01M1306.3 2157.2h.01M1373.2 2149.2h.01M1415.6 2150.6h.01M1626.4 2158.5h.01M1437.2 2198.2h.01M1285.1 2227.3h.01M1519.3 2208.8h.01M1432 2229.9h.01M1445.2 2243.1h.01M1445.2 2257.7h.01M1389.6 2220.7h.01M1387 2251.1h.01M1603.9 2227.3h.01M1647.6 2227.3h.01M1671.4 2227.3h.01M1708.4 2222h.01M1734.9 2222h.01M1725.6 2233.9h.01M1281.2 2278.9h.01M1305 2277.5h.01M1323.5 2276.2h.01M1603.9 2269.6h.01M1592 2282.8h.01M1676.7 2275.7h.01M1709.7 2281.5h.01M1410.8 2294.7h.01M1479.6 2292.1h.01M1503.4 2302.7h.01M1504.7 2311.9h.01M1611.9 2314.6h.01M1651.5 2311.9h.01M1664.8 2304h.01M1666.1 2319.9h.01M1696.5 2310.6h.01M1719 2308h.01M1715 2325.2h.01M1291.7 2311.9h.01M1392.3 2311.9h.01M1336.7 2334.4h.01M1347.3 2337.1h.01M1426.7 2338.4h.01M1481.7 2331.8h.01M1584.1 2341h.01M1551 2347.6h.01M1601.3 2358.2h.01M1630.4 2355.6h.01M1670.1 2362.2h.01M1695.2 2347.6h.01M1707.1 2362.2h.01M1277.2 2366.2h.01M1360.5 2374.1h.01M1482.2 2364.8h.01M1545.7 2379.4h.01M1564.2 2374.1h.01M1598.6 2392.6h.01M1622.4 2382h.01M1659.5 2386h.01M1687.2 2387.3h.01M1726.9 2378.1h.01M1757.4 2371.5h.01M1480.9 2393.9h.01M1512.6 2392.6h.01M1552.3 2409.8h.01M1712.4 2401.9h.01M1726.9 2399.2h.01M1752.1 2401.9h.01M1520.6 2419.1h.01M1528.5 2421.7h.01M1581.4 2420.4h.01M1594.7 2412.5h.01M1417.4 2419.1h.01M1322.2 2440.2h.01M1342 2441.6h.01M1581.4 2444.2h.01M1613.2 2442.9h.01M1656.8 2445.5h.01M1664.8 2440.2h.01M1689.9 2437.6h.01M1723 2442.9h.01M1730.9 2438.9h.01M1502.1 2457.4h.01M1699.2 2458.8h.01M1752.1 2461.4h.01M1387 2461.4h.01M1416.1 2458.8h.01M1361.9 2474.6h.01M1524.6 2474.6h.01M1630.4 2472h.01M1662.1 2469.3h.01M1551 2477.3h.01M1266.6 2191.6h.01M1790.4 2222h.01M1783.8 2239.2h.01M1783.3 2274.1h.01M1774.6 2317.2h.01M1790.4 2325.2h.01M1839.9 2338.4h.01M1935.1 2331.2h.01M1820.8 2379.4h.01M1813.7 2401.9h.01M864.5 2477.8h.01M916.1 2520.1h.01M946.5 2526.7h.01M902.9 2555.8h.01M976.9 2488.4h.01M1040.4 2488.4h.01M1033.8 2529.4h.01M1020.6 2550.6h.01M1020.6 2566.4h.01M1102.6 2502.9h.01M1144.9 2497.6h.01M1160.8 2518.8h.01M1174 2510.9h.01M1208.4 2509.5h.01M1238.8 2512.2h.01M1233.5 2543.9h.01M1121.1 2542.6h.01M1175.3 2566.4h.01M1064.2 2582.3h.01M1074.8 2594.2h.01M1160.8 2592.9h.01M877.7 2611.9h.01M969 2629.4h.01M1229.6 2620.7h.01M1123.8 2647.1h.01M1121.1 2664.3h.01M1248.1 2682.8h.01M1168.7 2700h.01M1163.4 2715.9h.01M1129 2716.7h.01M1217.7 2705.3h.01M1238.8 2717.2h.01M1183.3 2729.1h.01M1258.7 2708h.01M1192.5 2749h.01M1156 2750.8h.01M1127.2 2760.3h.01M916.1 2780.7h.01M1143.6 2791.3h.01M1123.8 2820.9h.01M1254.7 2827h.01M1254.7 2838.9h.01M1209.7 2875.9h.01M1230.9 2485.7h.01M1189.9 2476.5h.01M1077.5 2476.5h.01M1260 2647.1h.01M1274.6 2499h.01M1273.2 2517.5h.01M1332.8 2512.2h.01M1394.9 2491h.01M1387 2480.4h.01M1351.3 2477.8h.01M1392.3 2517.5h.01M1471.6 2491h.01M1524.6 2483.1h.01M1553.7 2501.6h.01M1527.2 2512.2h.01M1564.2 2509.5h.01M1603.9 2483.1h.01M1614.5 2506.9h.01M1638.3 2512.2h.01M1656.8 2477.8h.01M1692.5 2497.6h.01M1696.5 2512.2h.01M1697.8 2529.4h.01M1757.4 2529.4h.01M1299.7 2541.3h.01M1354.7 2538.6h.01M1412.1 2553.2h.01M1471.6 2558.5h.01M1524.6 2561.1h.01M1540.4 2534.7h.01M1572.2 2534.7h.01M1580.1 2546.6h.01M1607.9 2537.3h.01M1614.5 2549.2h.01M1629 2555.8h.01M1293.1 2562.5h.01M1285.1 2567.7h.01M1339.4 2565.1h.01M1372.4 2566.4h.01M1392.3 2566.4h.01M1380.4 2581h.01M1421.4 2573h.01M1590.7 2565.1h.01M1593.3 2578.3h.01M1558.9 2587.6h.01M1622.4 2575.7h.01M1683.3 2563.8h.01M1725.6 2567.7h.01M1699.2 2586.3h.01M1306.3 2598.2h.01M1336.7 2591.6h.01M1349.9 2596.8h.01M1352.6 2607.4h.01M1275.9 2612.7h.01M1299.7 2620.7h.01M1312.9 2622h.01M1414.8 2607.4h.01M1434.6 2607.4h.01M1447.8 2602.1h.01M1475.6 2604.8h.01M1517.9 2607.4h.01M1527.2 2615.4h.01M1572.2 2598.2h.01M1578.8 2607.4h.01M1629 2608.8h.01M1677.2 2609.3h.01M1732.2 2609.3h.01M1711.1 2622.8h.01M1270.6 2647.1h.01M1383 2628.6h.01M1394.9 2622h.01M1433.3 2625.9h.01M1445.2 2628.6h.01M1429.3 2647.1h.01M1459.7 2639.2h.01M1469 2647.1h.01M1535.1 2644.5h.01M1574.8 2635.2h.01M1588 2636.5h.01M1601.3 2648.4h.01M1581.4 2653.7h.01M1639.6 2651.6h.01M1671.4 2636.5h.01M1499.4 2639.2h.01M1359.2 2660.3h.01M1349.9 2673.6h.01M1429.3 2674.9h.01M1463.7 2670.9h.01M1471.6 2660.3h.01M1490.2 2676.2h.01M1484.9 2689.4h.01M1503.4 2694.7h.01M1532.5 2689.4h.01M1547 2702.7h.01M1586.7 2676.2h.01M1573.5 2693.4h.01M1588 2708h.01M1651.5 2693.4h.01M1670.1 2698.7h.01M1289.1 2692.1h.01M1376.4 2684.1h.01M1401.5 2697.4h.01M1302.3 2678.9h.01M1266.6 2686.8h.01M1435.9 2697.4h.01M1269.3 2713.2h.01M1310.3 2715.9h.01M1330.1 2709.3h.01M1353.9 2718.5h.01M1392.3 2730.4h.01M1435.9 2713.2h.01M1458.4 2721.2h.01M1453.1 2727.8h.01M1500.7 2721.2h.01M1523.2 2725.2h.01M1573.5 2727.8h.01M1641 2727.8h.01M1297 2742.4h.01M1479.6 2741h.01M1496.8 2750.3h.01M1514 2752.9h.01M1535.1 2755.6h.01M1552.3 2747.6h.01M1578.8 2754.3h.01M1633 2756.9h.01M1540.4 2766.2h.01M1392.3 2762.2h.01M1422.7 2764.8h.01M1442.5 2772.8h.01M1469 2776.7h.01M1487.5 2786h.01M1508.7 2782h.01M1499.4 2797.9h.01M1352.6 2786h.01M1363.2 2792.6h.01M1373.8 2800.6h.01M1305 2780.7h.01M1310.3 2795.3h.01M1416.1 2788.6h.01M1424 2799.2h.01M1447.8 2792.6h.01M1667.4 2768.8h.01M1274.6 2768.8h.01M1351.3 2762.2h.01M1511.3 2804.5h.01M1402.9 2809.8h.01M1397.6 2829.7h.01M1381.7 2834.9h.01M1316.9 2812.5h.01M1320.8 2821.7h.01M1565.6 2819.1h.01M1535.1 2823h.01M1507.4 2829.7h.01M1439.9 2842.9h.01M1346 2845.5h.01M1293.1 2853.5h.01M1506 2848.2h.01M1593.3 2846.8h.01M1619.8 2853.5h.01M1312.9 2858.8h.01M1326.1 2866.7h.01M1344.7 2869.3h.01M1445.2 2866.7h.01M1463.7 2866.7h.01M1434.6 2874.6h.01M1499.4 2874.6h.01M1580.1 2875.9h.01M1265.3 2874.6h.01M1801 2534.1h.01M1798.9 2570.4h.01M1807.6 2612.7h.01M1095.4 2896.3h.01M1207.8 2883.1h.01M1234.3 2899h.01M1251.5 2888.4h.01M1175.3 2918.8h.01M1308.4 2920.1h.01M1284.6 2934.7h.01M1300.4 2943.9h.01M1313.7 2943.9h.01M1284.6 2951.9h.01M1356 2917.5h.01M1353.3 2896.3h.01M1366.6 2901.6h.01M1398.3 2901.6h.01M1408.9 2902.9h.01M1443.3 2909.5h.01M1453.9 2893.7h.01M1469.7 2899h.01M1485.6 2888.4h.01M1514.7 2918.8h.01M1411.5 2928.1h.01M1424.8 2930.7h.01M1403.6 2943.9h.01M1467.1 2930.7h.01M1448.6 2941.3h.01M1438 2951.9h.01M1393 2957.2h.01M1404.9 2970.4h.01M1140.4 2962.5h.01M1166.3 2963.8h.01M1234.3 2957.2h.01M1259.4 2961.1h.01M1242.2 2978.3h.01M1102 2976.2h.01M1203.9 2981h.01M1329.5 2969.1h.01M1365.2 2979.7h.01M1300.4 2996.8h.01M1334.8 3002.1h.01M1215.8 2996.8h.01M1385.1 3003.5h.01M1427.4 2999.5h.01M1492.2 3006.1h.01M1204.4 3015.4h.01M1398.8 3028.6h.01M1434 3033.9h.01M1445.9 3036.5h.01M1472.9 3045.8h.01M1239 3052.4h.01M1274 3055h.01M1292.5 3053.7h.01M1396.2 3104h.01M1580.8 2885.7h.01M1575.6 2912.2h.01M1591.4 2912.2h.01M1469.8 2184.9h.01M1205.8 1701.1h.01M1490.7 1805.3h.01M1553.7 1817.2h.01M1522.5 1842.4h.01M1204.5 1886.8h.01M1215.1 1890.8h.01M1373.8 1881.5h.01M1323.5 1901.3h.01M1320.9 1917.2h.01M1316.4 1938.4h.01M1535.2 1913.2h.01M1533.9 1937.1h.01M1393.1 1946.3h.01M1391 1968.8h.01M1537.8 1972.8h.01M1246.8 1976.2h.01M1197.4 1982h.01M1313.8 1986h.01M1399.5 1996.6h.01M1558.5 1997.9h.01M1519.3 2009h.01M1265.9 2040.8h.01M1439.9 2048.2h.01M1426.7 2057.4h.01M1327.5 2056.1h.01M1176.7 2066.7h.01M1549.7 2072h.01M1332.8 2072h.01M1412.2 2075.9h.01M1714.3 1945h.01M1799.7 2072h.01M1035.1 2093.7h.01M1168.7 2085.7h.01M1209.7 2095h.01M1232.2 2095h.01M1061.6 2112.2h.01M1069.5 2124.1h.01M1178 2128.1h.01M1204.4 2130.7h.01M1103.9 2146.6h.01M1117.1 2140h.01M1130.4 2140h.01M1237.5 2151.9h.01M1175.3 2173h.01M1203.1 2176.2h.01M1141 2184.9h.01M1079.6 2191.6h.01M1125.1 2207.4h.01M1076.1 2223.3h.01M1096 2232.6h.01M1113.2 2233.9h.01M1185.1 2220.7h.01M968.5 2241.8h.01M1142.8 2243.1h.01M1211.6 2255.8h.01M1245.4 2244.5h.01M1257.4 2255h.01M877.2 2290.8h.01M1078.8 2276.2h.01M1188.6 2274.9h.01M1205.8 2289.4h.01M1061.6 2290.8h.01M1041.7 2293.4h.01M1111.3 2298.7h.01M963.7 2308h.01M1200.5 2308h.01M1171.9 2320.4h.01M1110.5 2325.2h.01M1248.1 2318.5h.01M1014 2349h.01M981.7 2356.9h.01M1144.9 2349h.01M1036.5 2363.5h.01M1051 2372.8h.01M1118.5 2363.5h.01M1146.2 2376.7h.01M1164.8 2376.7h.01M1197.8 2378.1h.01M924 2379.4h.01M914.8 2390h.01M1154.2 2391.3h.01M1078.3 2397.9h.01M966.3 2404.5h.01M951.8 2412.5h.01M968.5 2424.4h.01M897.6 2415.1h.01M920.1 2432.3h.01M1007.9 2420.4h.01M1176.1 2415.1h.01M1150.2 2437.6h.01M1070.8 2449.5h.01M1109.2 2454.8h.01M1168.7 2450.8h.01M957.1 2469.3h.01M1352.6 2095h.01M1324.8 2106.4h.01M1412.1 2083.1h.01M1406.8 2101.6h.01M1407.6 2128.1h.01M1269.3 2124.1h.01M1278 2150.6h.01M1320.3 2174.4h.01M1396.2 2169.9h.01M1308.9 2198.2h.01M1357.4 2195.5h.01M1397 2222h.01M1394.9 2250.3h.01M1523.2 2206.1h.01M1483 2232h.01M1610.5 2153.2h.01M1683.3 2122.8h.01M1666.1 2203.5h.01M1731.7 2200.8h.01M1592.5 2248.4h.01M1296.5 2265.6h.01M1336.2 2275.7h.01M1338.8 2300h.01M1463.7 2288.6h.01M1476.9 2288.1h.01M1495.4 2281.5h.01M1553.7 2294.2h.01M1383.8 2298.7h.01M1310.3 2313.2h.01M1301 2329.1h.01M1307.6 2339.7h.01M1719 2286.8h.01M1570.8 2350.3h.01M1572.2 2370.1h.01M1644.1 2373.6h.01M1384.3 2380.7h.01M1286.5 2403.2h.01M1279.8 2420.4h.01M1491.5 2394.7h.01M1496.8 2416.4h.01M1627.7 2407.2h.01M1382.2 2417.7h.01M1408.1 2417.7h.01M1439.4 2425.7h.01M1409.5 2445.5h.01M1430.6 2449.5h.01M1474.3 2461.4h.01M1441.2 2472h.01M1549.7 2080.4h.01M1911.6 2281.5h.01M914.2 2494.2h.01M867.9 2510.9h.01M889.6 2533.4h.01M984.9 2505.6h.01M1002.1 2513.5h.01M1017.9 2484.4h.01M955.8 2476.5h.01M1051 2543.9h.01M1177.5 2493.7h.01M1220.3 2526.7h.01M1134.3 2545.3h.01M1162.9 2549.8h.01M1207.1 2543.4h.01M974.3 2581h.01M1220.3 2579.7h.01M1021.1 2600.8h.01M924 2628.1h.01M1201.3 2634.4h.01M1184.6 2684.1h.01M1094.7 2748.2h.01M993.3 2782h.01M1183.3 2779.4h.01M1096 2806.6h.01M1177.5 2834.4h.01M1258.7 2763.5h.01M1441.2 2479.1h.01M1484.9 2489.7h.01M1540.4 2495h.01M1565.6 2489.7h.01M1627.2 2506.4h.01M1457.1 2505.6h.01M1439.4 2516.2h.01M1389.6 2525.4h.01M1551 2541.3h.01M1332 2547.9h.01M1437.2 2546.6h.01M1426.7 2557.2h.01M1355.8 2569.1h.01M1460.3 2578.3h.01M1395.7 2600.8h.01M1392.3 2610.1h.01M1545.7 2622h.01M1363.2 2633.9h.01M1373.8 2647.1h.01M1385.7 2657.7h.01M1440.7 2664.8h.01M1323.5 2667h.01M1307.6 2674.9h.01M1330.1 2689.4h.01M1374.3 2717.2h.01M1297.8 2734.4h.01M1269.3 2763.5h.01M1324.8 2771.5h.01M1380.9 2775.4h.01M1630.4 2786h.01M1282.5 2805h.01M1346.8 2808.5h.01M1566.3 2803.2h.01M1437.8 2826.5h.01M1288.6 2833.6h.01M1359.2 2874.6h.01M1303.1 2895h.01M1322.9 2893.7h.01M1359.9 2881.8h.01M1109.9 2918.8h.01M1270 2969.1h.01M1213.1 2988.9h.01M1338.8 2986.8h.01M1281.9 3045.8h.01M718.4 2337.9h.01M751 2375.4h.01M704.4 2399.8h.01M1078.3 1720.1h.01M1367.2 1937.9h.01M1481.7 1965.6h.01M1178.6 1977.5h.01M1324.9 2012.5h.01M1158.2 2049.5h.01M800.2 2229.1h.01M779 2352.4h.01M1029.8 2087.9h.01M1029.8 2117h.01M976.4 2170.4h.01M1151 2118.3h.01M1196.5 2118.8h.01M1189.9 2144.5h.01M1158.1 2161.9h.01M1109.7 2216.7h.01M1077.5 2241.3h.01M1096 2247.1h.01M1141 2259.8h.01M1012.6 2266.2h.01M1043.1 2274.9h.01M1025.9 2282.8h.01M990.2 2279.4h.01M1084.1 2282.8h.01M1170.8 2276.2h.01M984.3 2308.5h.01M875.6 2325.7h.01M1088 2323h.01M1201.3 2331.8h.01M847.3 2357.4h.01M1042.5 2359.5h.01M1100.7 2374.1h.01M1178.8 2386h.01M1241.5 2364h.01M1254.2 2339.7h.01M906.3 2412.5h.01M853.1 2418.5h.01M1029.8 2408.5h.01M1040.4 2413.8h.01M1221.6 2417.2h.01M1221.6 2437.6h.01M862.6 2446.1h.01M1020.6 2460.1h.01M1045.7 2460.1h.01M975.6 2470.7h.01M1151.5 2458.8h.01M1254.7 2458.8h.01M1342.5 2151.3h.01M1275.3 2179.7h.01M1442.5 2332.3h.01M1323 2421.2h.01M1633.5 2416.4h.01M1283.3 2461.4h.01M845.2 2487.1h.01M822.2 2530.7h.01M788.6 2579.1h.01M898.1 2505.6h.01M906.3 2577.8h.01M973 2571.7h.01M1055.5 2531.5h.01M1078.3 2553.2h.01M1098.1 2571.2h.01M1136.5 2557.2h.01M1164.8 2575.7h.01M1205.8 2569.1h.01M1221.6 2567.7h.01M1205.8 2496.3h.01M1248.1 2487.1h.01M982.2 2633.4h.01M1024.6 2645h.01M1048.4 2630.4h.01M1134.3 2629.4h.01M871.6 2684.7h.01M974.3 2477.8h.01M1221.6 2874.6h.01M1378.5 2497.6h.01M1503.4 2645h.01M1338.6 2678.3h.01M1354.4 2749h.01M1291.2 2764.8h.01M1221.6 2881.8h.01M1125.8 2925.9h.01M1137.7 2971.7h.01M1287.2 2979.7h.01M1184.8 3054.5h.01M1408.8 2742.2h.01M1567.9 2043.6h.01M885 2502.2h.01M1550.2 2570.8h.01M1046.2 2451.2h.01M1105.6 2571.8h.01M1285 2468.7h.01M1481.3 2709h.01M1286.6 2636.2h.01M1502.6 1999.6h.01M1192.4 2110.6h.01M1498 1864.1h.01M1399.7 1919.3h.01M1164.7 2142.5h.01M1093.6 2373.8h.01M1464.6 2842.7h.01M1071.8 2253.7h.01M1574.4 2462.4h.01M1199 2237.2h.01M1280.7 2663.3h.01M1645.6 2418.5h.01M1165.8 2669.6h.01M1262 1959.8h.01M1454.5 2749.4h.01M1167.6 2268.4h.01M1549.8 2676.1h.01M1797.3 2362.3h.01M1577.6 2117.6h.01M1277.6 2079.3h.01M1744.4 2244.7h.01M1392.5 2030.7h.01M1421 2534.5h.01M1238.1 2790.3h.01M1470.1 2260.6h.01M1649.9 2350.1h.01M1560.8 2218.5h.01M1613 2619.9h.01M1414.8 2250.1h.01M1246 2359.8h.01M1002 2554.7h.01M1146.2 2574.5h.01M1217.9 2796.5h.01M1361 2118.3h.01M1256.3 2573.9h.01M1230.2 2029.2h.01M1404.5 2646.7h.01M1481.7 2822h.01M1370 2503.3h.01M1247 2612.3h.01M1453.8 2101.7h.01M1207.5 2483.6h.01M1327.7 2645.6h.01M1421.4 2855h.01M1584.3 2514.5h.01M1301.3 2386.9h.01M1369.2 2851.2h.01M1356.8 2072h.01M1639.4 2589.5h.01M1190.8 2946.5h.01M1377.6 2542.6h.01M960.9 2444.1h.01M1478.9 2510.1h.01M1569.7 2077h.01M1431.7 2734.2h.01M1351.5 2355.3h.01M1773.2 2381.5h.01M1119.5 2871.9h.01M1429 2975.3h.01M1390.2 2791.7h.01M1421.1 2210.8h.01M1344.8 2948.8h.01M1377.4 2918.2h.01M1303.2 2964.3h.01M1560.6 2770.9h.01M1608.5 2597.1h.01M1343.5 2629.7h.01M1496.1 2542.8h.01M1351 2156h.01M1377.4 2196.2h.01M1312.9 2074.2h.01M1110.6 2620.5h.01M1237.9 2564.5h.01M1510.1 2670.8h.01M1668.8 2498.2h.01M1375 1952h.01M1254.1 2530.2h.01M1209.9 2911.1h.01M1505.1 2525.1h.01M1183.7 2869.6h.01M1332.8 2419.2h.01M1583.6 2164.4h.01M1160.5 2898.4h.01M1145.4 2668.7h.01M1276.3 2334.7h.01M1544.2 2797.6h.01M1000.9 2295.6h.01M1484.9 1979.2h.01M1286 2885.5h.01M1396.5 1878.3h.01M1082.1 2690.4h.01M1468.6 2412.3h.01M1054.7 2522.9h.01M1213.7 2965.1h.01M1462.8 2538.3h.01M1046.9 2606.4h.01M1493 2566.6h.01M1152.3 2472h.01M1421.6 2315.1h.01M1106 2389.1h.01M1135.7 2525.3h.01M1317.4 2006.7h.01M1256.5 2795.8h.01M1610 2462.4h.01M1756.5 2229.5h.01M1397.1 2366.6h.01M1126.6 2490.9h.01M1045.9 2274.9h.01M1224.5 2414.8h.01M1730.2 2268.8h.01M1119.9 2251.9h.01M1400.9 2862.8h.01M1256.9 2082.2h.01M1384.5 2981.8h.01M1535.1 2591.4h.01M1334.9 2751.5h.01M1624.9 2190.5h.01M1205.1 2732.7h.01M1128.3 2567.3h.01M1368.3 2214.2h.01M1342.1 1972.8h.01M1312.6 2559.3h.01M1636.6 2335.7h.01M1463 2691h.01M1655.9 2262.8h.01M1303.7 2517.2h.01M1240 2868.1h.01M1191.4 2581.1h.01M1760.5 2258.9h.01M1034.2 2622h.01M1570 2565.7h.01M1695.6 2245.9h.01M1372.9 2750.2h.01M1292.7 2494h.01M1713.2 2495.3h.01M1160.1 2635.9h.01M1481.4 2586.5h.01M1189.8 2158h.01M1120.3 2740.3h.01M991.2 2622.3h.01M1525.2 2875.2h.01M1269 2855.1h.01M1191.7 2796.9h.01M1359.9 1941.2h.01M1447.8 3010.8h.01M1189.6 2535.8h.01M1767.1 2202.8h.01M1237.7 2814.1h.01M1296.7 2653.8h.01M1674.2 2532.5h.01M1485.4 2845.9h.01M1462 2338.9h.01M969.1 2562.7h.01M1414.5 2483.5h.01M1287.7 2172h.01M1545.5 2722.8h.01M959 2386.5h.01M1350.9 2518.7h.01M1268.4 2991.8h.01M1629 2531.5h.01M1296.9 2762.4h.01M1021.3 2509.8h.01M1414.6 2719.5h.01M1071 2543.5h.01M1657.4 2523h.01M1293 1939.5h.01M1240.1 2750h.01M1305.4 2467.8h.01M1296.7 2244.6h.01M1686.5 2181.1h.01M925.3 2413.9h.01M1543.2 2117.5h.01M1108.5 2478.6h.01M1614.4 2206.7h.01M1552.6 2327.8h.01M1404.4 2997.7h.01M1406.3 2671.1h.01M1017.2 2462.4h.01M1324.4 2735.5h.01M1189.4 2659.5h.01M1372.9 2100.3h.01M1364.5 2826.9h.01M1508.7 2590.7h.01M901.7 2435.9h.01M1279 2587.5h.01M1396.6 2143.3h.01M1152.9 2919.6h.01M1374.9 2602.6h.01M1223.3 2686.1h.01M1711.3 2261h.01M1196.9 2852.4h.01M1460.5 2038.3h.01M1654.1 2605.5h.01M1392.2 2879.8h.01M1261.8 3015.5h.01M975 2274.6h.01M1521.3 2539.9h.01M1023.4 2406.8h.01M1174.3 2815.8h.01M1556.6 2655.7h.01M1638.1 2437.1h.01M1697.4 2606h.01M1193.8 2356.8h.01M1775.8 2339h.01M968.7 2522.2h.01M1141.8 2595.7h.01M1413.2 2514.4h.01M1632.8 2309.4h.01M1209.5 2022.2h.01M1174.2 2293.1h.01M1734.1 2491.3h.01M919.3 2451.5h.01M1273.5 2740h.01M913.7 2538.7h.01M1337.5 2212h.01M1141.2 2735.9h.01M1414.2 2629.8h.01M1302.6 2418.5h.01M1319.4 2581h.01M1381.7 2130.2h.01M1625.2 2636.4h.01M1548.6 2458.6h.01M1166 2796.6h.01M1656.9 2286.7h.01M1505.2 2435h.01M1198.3 2067.5h.01M1056.8 2203h.01M1280 3026.4h.01M1440.2 2581.8h.01M1677.7 2335h.01M1462.4 1868.6h.01M1081.5 2559.7h.01M1361.9 2699.3h.01M1261.4 2101h.01M1617 2423.8h.01M872.7 2452.2h.01M1639.3 2205.7h.01M1513.5 1941.8h.01M1125 2586.6h.01M1100.5 2549.4h.01M1002.1 2371.4h.01M1266.2 2226.4h.01M1253.6 2498.1h.01M1263.2 2167.5h.01M1415.8 2877.7h.01M1584.6 2487.8h.01M1488 2621.1h.01M1564.7 2710h.01M1204.4 2691.7h.01M1472.7 2799.1h.01M1688 2290.6h.01M1377.1 2357.2h.01M1528.7 2669.3h.01M1597.7 2339h.01M1365.2 2731.6h.01M1294.7 2812.1h.01M1342.7 2738.2h.01M1347 2691.1h.01M1603 2325.9h.01M1651.4 2399.3h.01M1516.4 2682.3h.01M1556.9 2784h.01M1396.5 2710.1h.01M1423.8 2819h.01M1368 2588.8h.01M1296.4 2797.5h.01M1373.5 1898.3h.01M1384.3 2896.7h.01M1516.3 2580.3h.01M1616.2 2394.6h.01M1139 2364.7h.01M1484.2 2758.6h.01M1392.5 1902.8h.01M1411.2 2819.1h.01M1242.8 2064.5h.01M1416.1 2164.6h.01M1581.1 2358.4h.01M1550.2 2601.9h.01M1526 2797.8h.01M1166.8 2023.5h.01M1335.1 1867.1h.01M1354.5 1889.2h.01M1339.6 1930.1h.01M1288 2609.7h.01M1062.9 2395.5h.01M1015 2317.3h.01M1376.6 2703.7h.01M1311.6 2634.9h.01M1299 2706.6h.01M1608 2301.2h.01M1390.8 2233.9h.01M1566 2622.4h.01M1443.9 2758.3h.01M1621.5 2738.5h.01M1199.3 2222h.01M1526 2766.8h.01M1466 2616.9h.01M1349.4 2556h.01M1482.3 2651.3h.01M1033.1 2349.6h.01M1527.4 2708.7h.01M1251.1 2042.7h.01M1046.8 2389.7h.01M1528.2 2526.1h.01M1363.7 2674.7h.01M1540.1 2322.4h.01M1320.1 2758.7h.01M1471.7 2631.6h.01M1331.9 2622.3h.01M1563.8 2414.8h.01M1509.8 2126.2h.01M1238 2209.9h.01M1299.6 2087.6h.01M1654 2364.6h.01M1515.5 2625.5h.01M1411.5 2770.4h.01M1405.1 2540.9h.01M1221.9 2202.3h.01M1475 2834.6h.01M1560.4 2528.9h.01M1412.7 1915.4h.01M1480.8 2526.5h.01M1230.4 2374.4h.01M1501.8 2762.5h.01M1406.6 2590.3h.01M1562.5 2454.8h.01M1587.4 2471.9h.01M1530.4 2577.9h.01M1585.7 2531.4h.01M1581.5 2378.8h.01M1559.4 2357.1h.01M1410.4 2757.2h.01M1298 2296.5h.01M1306.2 1870.8h.01M1472.4 2119.9h.01M1593.2 2543.8h.01M1641.2 2388.2h.01M1343.6 2492.1h.01M1602 2373.4h.01M1542.4 2739.3h.01M1594.9 2456.9h.01M1531.3 2435h.01M1339.4 2769.7h.01M1310.9 2702.8h.01M1284.7 2299h.01M1448.8 2702.2h.01M1370.8 2527.5h.01M1327.5 1882.2h.01M1467.6 2882.3h.01M1244.6 2028h.01M1447.5 2645.7h.01M1532.4 2382.8h.01M1481.2 2728.6h.01M1256.4 2744.6h.01M1503 2618.5h.01M1330.3 2949.3h.01M1322.6 2613.9h.01M1599.5 2440.5h.01M1568.1 2427h.01M1589.3 2432h.01M1389.6 2813.7h.01M1016.8 2332.5h.01M1323.3 2794.8h.01M1377.9 2732.1h.01M1470.1 2139.2h.01M1538 2469h.01M1181.6 2233.7h.01M1377.4 2787.6h.01M1040.8 2260.8h.01M1349.4 1986.9h.01M1504.4 2560.7h.01M1266.4 2410.8h.01M1290 2072.7h.01M1582 2325.9h.01M1089.5 2265.8h.01M1428 2073.9h.01M1568.3 2662.8h.01M1202.2 1913.1h.01M1207.9 1933.8h.01M1323.3 2345.3h.01M1623.3 2324.7h.01M1419.3 2703.6h.01M1492.5 1938.7h.01M1563.3 2640.4h.01M1174.4 2401.2h.01M1283.7 2819.5h.01M1509.4 2511.5h.01M1345.6 2707.8h.01M1540.3 2366.3h.01M1442.1 2569.2h.01M1466.4 2758.6h.01M1543.3 2658.4h.01M1207.2 2205.1h.01M1369.8 2463.6h.01M1298 2588.3h.01M1437 1882.1h.01M1516 2738.2h.01M1448.5 2120.4h.01M1274.1 2291.3h.01M1559.4 2693.1h.01M1446.8 2686.7h.01M1426 2748.1h.01M1366.4 1919.5h.01M1522.3 2839.6h.01M1005.4 2308.6h.01M1510.3 2546.1h.01M1444.5 2737h.01M1649.7 2337.2h.01M1621.1 2765.3h.01M1523.3 2652.9h.01M1226.6 2217.8h.01M1461.7 2518.6h.01M1429.8 2786h.01M1446.2 2536.7h.01M1542.8 2512.6h.01M1535.9 2554.2h.01M1621.2 2303.8h.01M1492.4 2660.8h.01M1340 2608.7h.01M1071 2352.9h.01M1294.1 2284.3h.01M1353.9 1927.3h.01M1490.5 2601.2h.01M1460.4 2830h.01M1437.3 2801h.01M1345.9 2464.6h.01M1472.9 2575.8h.01M1483.2 2549.4h.01M1578.7 2622.8h.01M1329.7 2723.2h.01M1320.1 2680.8h.01M1306.6 2662.1h.01M1471.9 2718.2h.01M1390.3 2681.6h.01M1333.1 1913.4h.01M1119.9 2126.2h.01M1568.1 2298.3h.01M1060.3 2258.8h.01M1549.6 2636.5h.01M1634.6 2571.7h.01M1162 2036.6h.01M1388.3 1890.6h.01M1021.7 2359.1h.01M1055 2326.7h.01M1362.3 2774.1h.01M1629.8 2622.9h.01M1362.1 2553.3h.01M1294.2 2014.5h.01M1203.3 2156.2h.01M1347.4 2016.7h.01M1271.5 2064.7h.01M1508.4 2109.1h.01M1460.1 1967.2h.01M1403.4 1954.1h.01M1509 2657.4h.01M1605.1 2560.8h.01M1622 2800.9h.01M1227.6 2064.9h.01M1404.1 2793.9h.01M1455.4 2657.6h.01M1424 2471.1h.01M1025.6 2195.3h.01M1310.8 2746.6h.01M1065.5 2272.8h.01M1588.4 2807.3h.01M1620.6 2718.2h.01M1329.1 2038.5h.01M1163.6 2220.9h.01M1381.3 1939.7h.01M1606.8 2408.8h.01M1209.3 2412.9h.01M1404.9 2473.1h.01M1655.3 2429.9h.01M1297.5 2051.7h.01M1538.3 2605.9h.01M1664.7 2399.6h.01M1422.9 2594.3h.01M1403.5 2528h.01M1557.4 2729.1h.01M1189 2249.3h.01M1513.7 2406.4h.01M1039.3 2378.1h.01M1253.3 2130.3h.01M1378.2 2616h.01M1294.5 2355h.01M1039.8 2337h.01M1454.9 2558h.01M1279.6 2091.6h.01M1327.1 2560.8h.01M1587 2821.6h.01M1319 2330.3h.01M1326.7 1972.9h.01M1349 2931.1h.01M1609.1 2583.9h.01M1314.6 2651.7h.01M1134.3 2291.5h.01M1402.3 2723h.01M1186.5 2287.9h.01" stroke="#BEBEBE" stroke-width="26.2" stroke-linecap="round" fill="none"/>
<path d="M372 2435.8a11.8 11.8 0 1 0 23.6 0a11.8 11.8 0 1 0 -23.6 0M365.3 2446.4a11.8 11.8 0 1 0 23.6 0a11.8 11.8 0 1 0 -23.6 0M418.3 2440.6a11.8 11.8 0 1 0 23.6 0a11.8 11.8 0 1 0 -23.6 0M444.7 2454.3a11.8 11.8 0 1 0 23.6 0a11.8 11.8 0 1 0 -23.6 0M459.3 2450.4a11.8 11.8 0 1 0 23.6 0a11.8 11.8 0 1 0 -23.6 0M414.3 2463.6a11.8 11.8 0 1 0 23.6 0a11.8 11.8 0 1 0 -23.6 0M427.5 2471.5a11.8 11.8 0 1 0 23.6 0a11.8 11.8 0 1 0 -23.6 0M522.8 2517.8a11.8 11.8 0 1 0 23.6 0a11.8 11.8 0 1 0 -23.6 0M530.7 2520.5a11.8 11.8 0 1 0 23.6 0a11.8 11.8 0 1 0 -23.6 0M570.4 2527.1a11.8 11.8 0 1 0 23.6 0a11.8 11.8 0 1 0 -23.6 0M575.7 2496.7a11.8 11.8 0 1 0 23.6 0a11.8 11.8 0 1 0 -23.6 0M607.4 2512.5a11.8 11.8 0 1 0 23.6 0a11.8 11.8 0 1 0 -23.6 0M632.5 2515.2a11.8 11.8 0 1 0 23.6 0a11.8 11.8 0 1 0 -23.6 0M559.8 2544.3a11.8 11.8 0 1 0 23.6 0a11.8 11.8 0 1 0 -23.6 0M579.6 2552.2a11.8 11.8 0 1 0 23.6 0a11.8 11.8 0 1 0 -23.6 0M591.5 2554.9a11.8 11.8 0 1 0 23.6 0a11.8 11.8 0 1 0 -23.6 0M547.9 2570.7a11.8 11.8 0 1 0 23.6 0a11.8 11.8 0 1 0 -23.6 0M586.2 2572.1a11.8 11.8 0 1 0 23.6 0a11.8 11.8 0 1 0 -23.6 0M640.5 2560.2a11.8 11.8 0 1 0 23.6 0a11.8 11.8 0 1 0 -23.6 0M614 2574.7a11.8 11.8 0 1 0 23.6 0a11.8 11.8 0 1 0 -23.6 0M620.6 2587.9a11.8 11.8 0 1 0 23.6 0a11.8 11.8 0 1 0 -23.6 0M635.2 2609.1a11.8 11.8 0 1 0 23.6 0a11.8 11.8 0 1 0 -23.6 0" stroke="#000" stroke-width="3.1" fill="none"/>
<path d="M334.8 2491.9h.01M352.5 2425.8h.01M359.9 2428.4h.01M400.2 2423.9h.01M377.1 2472.3h.01M377.1 2507.8h.01M416.8 2516.5h.01M412.9 2461h.01M411.5 2471.5h.01M412.9 2489.5h.01M439.3 2478.1h.01M455.2 2483.4h.01M458.4 2506.7h.01M451.2 2521.8h.01M506.8 2406.7h.01M493.5 2421.3h.01M505.4 2431.9h.01M484.3 2441.1h.01M500.2 2446.4h.01M481.6 2454.3h.01M518.7 2453h.01M502.8 2467.6h.01M486.9 2478.1h.01M508.1 2483.4h.01M524 2472.9h.01M489.6 2494h.01M508.1 2502h.01M489.6 2512.5h.01M502.8 2520.5h.01M524 2499.3h.01M551.7 2439.8h.01M546.5 2451.7h.01M547.8 2467.6h.01M563.7 2474.2h.01M539.8 2483.4h.01M555.7 2491.4h.01M571.6 2494h.01M584.8 2486.1h.01M539.8 2502h.01M561 2507.2h.01M579.5 2502h.01M598.8 2463.6h.01M524 2527.1h.01M516 2539h.01M534.6 2536.3h.01M524 2557.5h.01M539.8 2561.5h.01M550.4 2539h.01M568.9 2531.1h.01M558.4 2549.6h.01M606 2536.3h.01M621.9 2525.8h.01M632.4 2531.1h.01M613.9 2541.6h.01M651 2525.8h.01M637.7 2557.5h.01M643 2573.4h.01M681.4 2562.3h.01M611.3 2580h.01M584.8 2589.3h.01M591.4 2594.6h.01M566.3 2597.2h.01M573.7 2610.4h.01M621.3 2609.1h.01M664.2 2598.5h.01" stroke="#000" stroke-width="26.6" stroke-linecap="round" fill="none"/>
</g>
<g fill="none" stroke="#000" stroke-width="3.2" stroke-linecap="round">
<rect x="270" y="91.3" width="1728" height="1548.4"/>
<rect x="270" y="1639.7" width="1728" height="1548.3"/>
<path d="M468.9 3188v31M744 3188v31M1019.2 3188v31M1294.3 3188v31M1569.4 3188v31M1844.6 3188v31M270 1556.3h-31M270 3104h-31M270 1239.1h-31M270 2786.8h-31M270 921.9h-31M270 2469.6h-31M270 604.7h-31M270 2152.4h-31M270 287.5h-31M270 1835.2h-31"/>
</g>
<g font-size="50" text-anchor="middle">
<text x="468.9" y="3297">−60</text>
<text x="744" y="3297">−40</text>
<text x="1019.2" y="3297">−20</text>
<text x="1294.3" y="3297">0</text>
<text x="1569.4" y="3297">20</text>
<text x="1844.6" y="3297">40</text>
<text transform="translate(198 1556.3) rotate(-90)">−40</text>
<text transform="translate(198 1239.1) rotate(-90)">−20</text>
<text transform="translate(198 921.9) rotate(-90)">0</text>
<text transform="translate(198 604.7) rotate(-90)">20</text>
<text transform="translate(198 287.5) rotate(-90)">40</text>
<text transform="translate(198 3104) rotate(-90)">−40</text>
<text transform="translate(198 2786.8) rotate(-90)">−20</text>
<text transform="translate(198 2469.6) rotate(-90)">0</text>
<text transform="translate(198 2152.4) rotate(-90)">20</text>
<text transform="translate(198 1835.2) rotate(-90)">40</text>
<text x="1134" y="3417">MDS 1</text>
<text transform="translate(79 865.5) rotate(-90)">MDS 2</text>
<text transform="translate(79 2413) rotate(-90)">MDS 2</text>
</g>
<g transform="translate(20 60) scale(0.0846561)"><path fill-rule="evenodd" d="M370 668C400 520 510 448 700 448C900 448 1022 520 1022 700L1022 1000C1022 1100 1040 1170 1065 1225L865 1225C852 1190 843 1160 838 1130C780 1200 690 1240 590 1240C440 1240 348 1140 348 1000C348 880 420 820 560 798L828 740L828 700C828 630 780 598 690 598C610 598 565 630 552 695ZM828 875L650 912C580 928 548 955 548 1000C548 1055 595 1088 660 1088C760 1088 828 1020 828 930Z"/></g>
<g transform="translate(20 1620) scale(0.0846561)"><path fill-rule="evenodd" d="M357 343L557 343L557 735C610 665 690 625 780 625C960 625 1105 780 1105 1020C1105 1260 960 1415 780 1415C680 1415 600 1375 545 1300L545 1405L357 1405ZM730 778C620 778 555 870 555 1020C555 1170 620 1265 730 1265C840 1265 895 1170 895 1020C895 870 840 778 730 778Z"/></g>
<g fill="none" stroke="#000">
<rect x="2097" y="461" width="1189" height="150.3" stroke-width="2.4"/>
<rect x="2097" y="88.7" width="1189" height="372.3" stroke-width="4.2"/>
</g>
<text x="2697" y="150.2" font-size="58.2" text-anchor="middle">Outgroup to the rest of Deuteropoda:</text>
<g font-size="50">
<circle cx="2128.3" cy="210.7" r="20" fill="#490092"/>
<text x="2156.4" y="227.8"><tspan font-style="italic">Isoxys</tspan> +</text>
<text x="2157" y="287.7" font-style="italic">Surusicaris</text>
<circle cx="2547" cy="209.4" r="20" fill="#24FF24"/>
<text x="2574" y="226.8"><tspan font-style="italic">Isoxys</tspan> only</text>
<circle cx="2938.8" cy="207.7" r="20" fill="#FF6DB6"/>
<text x="2967.5" y="223.2" font-style="italic">Surusicaris</text>
<text x="2973" y="285">only</text>
<circle cx="2128.5" cy="358.3" r="20" fill="#006DDB"/>
<text x="2157" y="374"><tspan font-style="italic">Erratus</tspan> only</text>
<circle cx="2541.8" cy="363.8" r="20.6" fill="none" stroke="#000" stroke-width="4.2"/>
<text x="2569.2" y="379.6">None of the</text>
<text x="2567.8" y="438.6">above</text>
<circle cx="2129.2" cy="519" r="20" fill="#BEBEBE"/>
<text x="2156.7" y="535">Bayesian</text>
<text x="2154.5" y="590.5">inference</text>
<circle cx="2548" cy="516.5" r="20.6" fill="none" stroke="#000" stroke-width="4.2"/>
<text x="2575.5" y="532.6">MP: equal</text>
<text x="2573" y="590.3">weights</text>
<circle cx="2937.4" cy="514.2" r="20.2" fill="#000"/>
<text x="2965.4" y="530">MP: implied</text>
<text x="2968" y="590.3">weights</text>
</g>
</svg>
</body></html>
